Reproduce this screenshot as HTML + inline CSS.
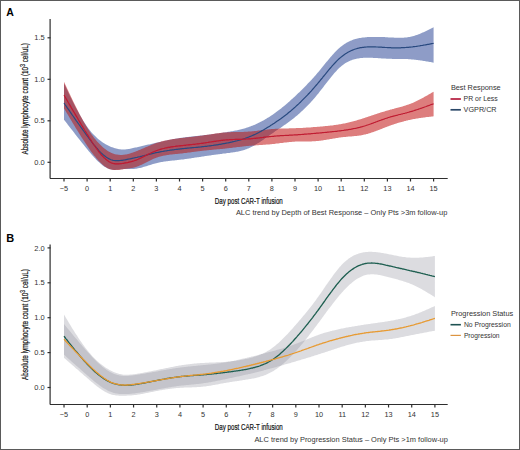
<!DOCTYPE html>
<html><head><meta charset="utf-8">
<style>
html,body{margin:0;padding:0;background:#fff;}
body{width:520px;height:450px;overflow:hidden;position:relative;font-family:"Liberation Sans",sans-serif;}
svg{position:absolute;left:0;top:0;}
</style></head>
<body>
<svg width="520" height="450" viewBox="0 0 520 450" font-family="Liberation Sans, sans-serif">
<defs><filter id="bl" x="-5%" y="-5%" width="110%" height="110%"><feGaussianBlur stdDeviation="0.6"/></filter></defs>
<rect x="0.5" y="0.5" width="519" height="449" fill="#fff" stroke="#5a5a5a" stroke-width="1"/>
<!-- Panel A -->
<text x="6.3" y="15.6" font-size="10.5" font-weight="bold" fill="#000">A</text>
<g filter="url(#bl)">
<path d="M64.0,83.5 L65.0,85.5 L66.0,87.6 L67.0,89.7 L68.0,91.8 L69.0,93.9 L70.0,95.9 L71.0,98.0 L72.0,100.0 L73.0,102.0 L74.0,104.0 L75.0,106.0 L76.0,107.9 L77.0,109.8 L78.0,111.6 L79.0,113.5 L80.0,115.3 L81.0,117.0 L82.0,118.7 L83.0,120.4 L84.0,122.0 L85.0,123.6 L86.0,125.1 L87.0,126.5 L88.0,127.9 L89.0,129.3 L90.0,130.5 L91.0,131.8 L92.0,132.9 L93.0,134.1 L94.0,135.1 L95.1,136.1 L96.1,137.1 L97.1,138.0 L98.1,138.9 L99.1,139.8 L100.1,140.6 L101.1,141.3 L102.1,142.0 L103.1,142.7 L104.1,143.3 L105.1,143.9 L106.1,144.5 L107.1,145.1 L108.1,145.6 L109.1,146.0 L110.1,146.5 L111.1,146.9 L112.1,147.3 L113.1,147.6 L114.1,148.0 L115.1,148.3 L116.1,148.5 L117.1,148.8 L118.1,149.0 L119.1,149.2 L120.1,149.3 L121.1,149.4 L122.1,149.5 L123.1,149.5 L124.1,149.5 L125.1,149.4 L126.1,149.3 L127.1,149.2 L128.1,149.1 L129.1,148.9 L130.1,148.7 L131.1,148.5 L132.1,148.3 L133.1,148.1 L134.1,147.8 L135.1,147.6 L136.1,147.4 L137.1,147.2 L138.1,146.9 L139.1,146.7 L140.1,146.5 L141.1,146.2 L142.1,146.0 L143.1,145.8 L144.1,145.5 L145.1,145.3 L146.1,145.1 L147.1,144.8 L148.1,144.6 L149.1,144.4 L150.1,144.2 L151.1,143.9 L152.1,143.7 L153.1,143.5 L154.1,143.2 L155.1,143.0 L156.1,142.8 L157.2,142.5 L158.2,142.3 L159.2,142.1 L160.2,141.9 L161.2,141.6 L162.2,141.4 L163.2,141.2 L164.2,141.0 L165.2,140.8 L166.2,140.5 L167.2,140.3 L168.2,140.1 L169.2,139.9 L170.2,139.7 L171.2,139.5 L172.2,139.3 L173.2,139.1 L174.2,139.0 L175.2,138.8 L176.2,138.6 L177.2,138.4 L178.2,138.3 L179.2,138.1 L180.2,138.0 L181.2,137.8 L182.2,137.7 L183.2,137.5 L184.2,137.4 L185.2,137.3 L186.2,137.1 L187.2,137.0 L188.2,136.9 L189.2,136.8 L190.2,136.7 L191.2,136.6 L192.2,136.4 L193.2,136.3 L194.2,136.2 L195.2,136.1 L196.2,136.0 L197.2,135.9 L198.2,135.8 L199.2,135.7 L200.2,135.6 L201.2,135.5 L202.2,135.4 L203.2,135.3 L204.2,135.1 L205.2,135.0 L206.2,134.9 L207.2,134.8 L208.2,134.7 L209.2,134.5 L210.2,134.4 L211.2,134.3 L212.2,134.2 L213.2,134.0 L214.2,133.9 L215.2,133.8 L216.2,133.6 L217.2,133.5 L218.3,133.4 L219.3,133.2 L220.3,133.1 L221.3,132.9 L222.3,132.8 L223.3,132.6 L224.3,132.5 L225.3,132.3 L226.3,132.2 L227.3,132.0 L228.3,131.8 L229.3,131.7 L230.3,131.5 L231.3,131.3 L232.3,131.2 L233.3,131.0 L234.3,130.8 L235.3,130.6 L236.3,130.4 L237.3,130.2 L238.3,130.0 L239.3,129.7 L240.3,129.5 L241.3,129.3 L242.3,129.0 L243.3,128.7 L244.3,128.4 L245.3,128.2 L246.3,127.8 L247.3,127.5 L248.3,127.2 L249.3,126.8 L250.3,126.5 L251.3,126.1 L252.3,125.7 L253.3,125.3 L254.3,124.9 L255.3,124.5 L256.3,124.0 L257.3,123.5 L258.3,123.1 L259.3,122.6 L260.3,122.1 L261.3,121.5 L262.3,121.0 L263.3,120.5 L264.3,119.9 L265.3,119.3 L266.3,118.7 L267.3,118.1 L268.3,117.5 L269.3,116.9 L270.3,116.2 L271.3,115.5 L272.3,114.9 L273.3,114.2 L274.3,113.5 L275.3,112.7 L276.3,112.0 L277.3,111.3 L278.3,110.5 L279.3,109.7 L280.4,108.9 L281.4,108.2 L282.4,107.3 L283.4,106.5 L284.4,105.7 L285.4,104.9 L286.4,104.0 L287.4,103.2 L288.4,102.3 L289.4,101.4 L290.4,100.5 L291.4,99.6 L292.4,98.7 L293.4,97.8 L294.4,96.9 L295.4,96.0 L296.4,95.0 L297.4,94.1 L298.4,93.1 L299.4,92.2 L300.4,91.2 L301.4,90.2 L302.4,89.2 L303.4,88.2 L304.4,87.2 L305.4,86.2 L306.4,85.2 L307.4,84.1 L308.4,83.1 L309.4,82.0 L310.4,81.0 L311.4,79.9 L312.4,78.8 L313.4,77.7 L314.4,76.5 L315.4,75.4 L316.4,74.2 L317.4,73.1 L318.4,71.9 L319.4,70.7 L320.4,69.5 L321.4,68.2 L322.4,67.0 L323.4,65.8 L324.4,64.6 L325.4,63.3 L326.4,62.1 L327.4,60.9 L328.4,59.7 L329.4,58.5 L330.4,57.3 L331.4,56.2 L332.4,55.0 L333.4,53.9 L334.4,52.8 L335.4,51.8 L336.4,50.8 L337.4,49.8 L338.4,48.8 L339.4,47.9 L340.4,47.1 L341.5,46.2 L342.5,45.5 L343.5,44.7 L344.5,44.0 L345.5,43.4 L346.5,42.8 L347.5,42.2 L348.5,41.7 L349.5,41.2 L350.5,40.8 L351.5,40.4 L352.5,40.0 L353.5,39.6 L354.5,39.3 L355.5,39.0 L356.5,38.8 L357.5,38.5 L358.5,38.3 L359.5,38.1 L360.5,37.9 L361.5,37.7 L362.5,37.6 L363.5,37.5 L364.5,37.4 L365.5,37.3 L366.5,37.2 L367.5,37.1 L368.5,37.0 L369.5,37.0 L370.5,36.9 L371.5,36.9 L372.5,36.9 L373.5,36.9 L374.5,36.9 L375.5,36.9 L376.5,36.9 L377.5,36.9 L378.5,36.9 L379.5,36.9 L380.5,37.0 L381.5,37.0 L382.5,37.0 L383.5,37.1 L384.5,37.1 L385.5,37.2 L386.5,37.3 L387.5,37.3 L388.5,37.4 L389.5,37.4 L390.5,37.5 L391.5,37.5 L392.5,37.6 L393.5,37.6 L394.5,37.7 L395.5,37.7 L396.5,37.8 L397.5,37.8 L398.5,37.8 L399.5,37.8 L400.5,37.8 L401.5,37.8 L402.5,37.7 L403.6,37.7 L404.6,37.6 L405.6,37.5 L406.6,37.4 L407.6,37.2 L408.6,37.1 L409.6,36.9 L410.6,36.7 L411.6,36.5 L412.6,36.2 L413.6,36.0 L414.6,35.7 L415.6,35.3 L416.6,35.0 L417.6,34.7 L418.6,34.3 L419.6,33.9 L420.6,33.5 L421.6,33.1 L422.6,32.6 L423.6,32.2 L424.6,31.7 L425.6,31.3 L426.6,30.8 L427.6,30.3 L428.6,29.8 L429.6,29.3 L430.6,28.8 L431.6,28.3 L432.6,27.8 L433.6,27.3 L433.6,62.7 L432.6,62.5 L431.6,62.3 L430.6,62.1 L429.6,62.0 L428.6,61.8 L427.6,61.6 L426.6,61.4 L425.6,61.3 L424.6,61.1 L423.6,60.9 L422.6,60.8 L421.6,60.6 L420.6,60.5 L419.6,60.3 L418.6,60.2 L417.6,60.0 L416.6,59.9 L415.6,59.8 L414.6,59.7 L413.6,59.6 L412.6,59.5 L411.6,59.4 L410.6,59.3 L409.6,59.2 L408.6,59.2 L407.6,59.1 L406.6,59.1 L405.6,59.0 L404.6,59.0 L403.6,59.0 L402.5,59.0 L401.5,58.9 L400.5,58.9 L399.5,58.9 L398.5,58.9 L397.5,58.9 L396.5,58.9 L395.5,58.9 L394.5,58.9 L393.5,58.9 L392.5,58.9 L391.5,58.8 L390.5,58.8 L389.5,58.8 L388.5,58.8 L387.5,58.7 L386.5,58.7 L385.5,58.6 L384.5,58.6 L383.5,58.5 L382.5,58.4 L381.5,58.4 L380.5,58.3 L379.5,58.3 L378.5,58.2 L377.5,58.1 L376.5,58.1 L375.5,58.0 L374.5,57.9 L373.5,57.9 L372.5,57.8 L371.5,57.8 L370.5,57.8 L369.5,57.7 L368.5,57.7 L367.5,57.7 L366.5,57.7 L365.5,57.8 L364.5,57.8 L363.5,57.8 L362.5,57.9 L361.5,58.0 L360.5,58.1 L359.5,58.2 L358.5,58.4 L357.5,58.5 L356.5,58.7 L355.5,59.0 L354.5,59.2 L353.5,59.5 L352.5,59.8 L351.5,60.2 L350.5,60.6 L349.5,61.0 L348.5,61.5 L347.5,62.0 L346.5,62.5 L345.5,63.1 L344.5,63.8 L343.5,64.5 L342.5,65.3 L341.5,66.1 L340.4,66.9 L339.4,67.8 L338.4,68.8 L337.4,69.8 L336.4,70.9 L335.4,72.0 L334.4,73.1 L333.4,74.2 L332.4,75.4 L331.4,76.7 L330.4,77.9 L329.4,79.2 L328.4,80.4 L327.4,81.7 L326.4,83.0 L325.4,84.3 L324.4,85.6 L323.4,86.9 L322.4,88.2 L321.4,89.5 L320.4,90.8 L319.4,92.1 L318.4,93.4 L317.4,94.6 L316.4,95.8 L315.4,97.0 L314.4,98.2 L313.4,99.3 L312.4,100.4 L311.4,101.6 L310.4,102.7 L309.4,103.7 L308.4,104.8 L307.4,105.8 L306.4,106.8 L305.4,107.8 L304.4,108.8 L303.4,109.8 L302.4,110.7 L301.4,111.6 L300.4,112.5 L299.4,113.4 L298.4,114.3 L297.4,115.2 L296.4,116.0 L295.4,116.8 L294.4,117.7 L293.4,118.5 L292.4,119.2 L291.4,120.0 L290.4,120.8 L289.4,121.5 L288.4,122.2 L287.4,123.0 L286.4,123.7 L285.4,124.4 L284.4,125.1 L283.4,125.8 L282.4,126.5 L281.4,127.2 L280.4,127.9 L279.3,128.6 L278.3,129.2 L277.3,129.9 L276.3,130.6 L275.3,131.3 L274.3,132.0 L273.3,132.7 L272.3,133.4 L271.3,134.1 L270.3,134.8 L269.3,135.5 L268.3,136.2 L267.3,136.9 L266.3,137.6 L265.3,138.3 L264.3,139.0 L263.3,139.7 L262.3,140.4 L261.3,141.0 L260.3,141.7 L259.3,142.4 L258.3,143.0 L257.3,143.6 L256.3,144.2 L255.3,144.8 L254.3,145.4 L253.3,146.0 L252.3,146.5 L251.3,147.0 L250.3,147.5 L249.3,148.0 L248.3,148.4 L247.3,148.8 L246.3,149.2 L245.3,149.5 L244.3,149.9 L243.3,150.2 L242.3,150.5 L241.3,150.7 L240.3,151.0 L239.3,151.2 L238.3,151.5 L237.3,151.7 L236.3,151.8 L235.3,152.0 L234.3,152.2 L233.3,152.3 L232.3,152.5 L231.3,152.6 L230.3,152.8 L229.3,152.9 L228.3,153.0 L227.3,153.1 L226.3,153.3 L225.3,153.4 L224.3,153.5 L223.3,153.6 L222.3,153.8 L221.3,153.9 L220.3,154.0 L219.3,154.2 L218.3,154.3 L217.2,154.4 L216.2,154.6 L215.2,154.7 L214.2,154.8 L213.2,155.0 L212.2,155.1 L211.2,155.2 L210.2,155.4 L209.2,155.5 L208.2,155.7 L207.2,155.8 L206.2,156.0 L205.2,156.1 L204.2,156.2 L203.2,156.4 L202.2,156.5 L201.2,156.7 L200.2,156.9 L199.2,157.0 L198.2,157.2 L197.2,157.3 L196.2,157.5 L195.2,157.6 L194.2,157.8 L193.2,157.9 L192.2,158.1 L191.2,158.2 L190.2,158.4 L189.2,158.5 L188.2,158.7 L187.2,158.8 L186.2,159.0 L185.2,159.1 L184.2,159.2 L183.2,159.4 L182.2,159.5 L181.2,159.6 L180.2,159.7 L179.2,159.8 L178.2,160.0 L177.2,160.1 L176.2,160.2 L175.2,160.3 L174.2,160.4 L173.2,160.5 L172.2,160.6 L171.2,160.7 L170.2,160.8 L169.2,160.9 L168.2,161.0 L167.2,161.2 L166.2,161.3 L165.2,161.4 L164.2,161.6 L163.2,161.7 L162.2,161.9 L161.2,162.1 L160.2,162.3 L159.2,162.5 L158.2,162.7 L157.2,162.9 L156.1,163.2 L155.1,163.5 L154.1,163.7 L153.1,164.0 L152.1,164.3 L151.1,164.7 L150.1,165.0 L149.1,165.3 L148.1,165.6 L147.1,165.9 L146.1,166.2 L145.1,166.5 L144.1,166.8 L143.1,167.1 L142.1,167.4 L141.1,167.7 L140.1,167.9 L139.1,168.1 L138.1,168.3 L137.1,168.5 L136.1,168.7 L135.1,168.8 L134.1,168.9 L133.1,168.9 L132.1,169.0 L131.1,169.0 L130.1,169.0 L129.1,168.9 L128.1,168.9 L127.1,168.9 L126.1,168.9 L125.1,168.9 L124.1,169.0 L123.1,169.1 L122.1,169.2 L121.1,169.3 L120.1,169.4 L119.1,169.6 L118.1,169.7 L117.1,169.8 L116.1,169.8 L115.1,169.9 L114.1,169.9 L113.1,169.8 L112.1,169.7 L111.1,169.6 L110.1,169.3 L109.1,169.0 L108.1,168.6 L107.1,168.2 L106.1,167.6 L105.1,167.0 L104.1,166.4 L103.1,165.7 L102.1,164.9 L101.1,164.1 L100.1,163.2 L99.1,162.3 L98.1,161.4 L97.1,160.4 L96.1,159.4 L95.1,158.3 L94.0,157.2 L93.0,156.1 L92.0,154.9 L91.0,153.8 L90.0,152.6 L89.0,151.4 L88.0,150.2 L87.0,148.9 L86.0,147.7 L85.0,146.5 L84.0,145.2 L83.0,144.0 L82.0,142.8 L81.0,141.5 L80.0,140.2 L79.0,139.0 L78.0,137.7 L77.0,136.4 L76.0,135.2 L75.0,133.9 L74.0,132.6 L73.0,131.3 L72.0,130.0 L71.0,128.8 L70.0,127.5 L69.0,126.2 L68.0,124.9 L67.0,123.6 L66.0,122.3 L65.0,121.0 L64.0,119.7 Z" fill="#284696" fill-opacity="0.53" stroke="none"/>
<path d="M64.0,81.7 L65.0,83.9 L66.0,86.0 L67.0,88.2 L68.0,90.3 L69.0,92.5 L70.0,94.6 L71.0,96.7 L72.0,98.8 L73.0,100.9 L74.0,103.0 L75.0,105.0 L76.0,107.0 L77.0,109.0 L78.0,111.0 L79.0,113.0 L80.0,114.9 L81.0,116.8 L82.0,118.6 L83.0,120.5 L84.0,122.2 L85.0,124.0 L86.0,125.7 L87.0,127.3 L88.0,129.0 L89.0,130.5 L90.0,132.0 L91.0,133.5 L92.0,134.9 L93.0,136.3 L94.0,137.7 L95.1,138.9 L96.1,140.2 L97.1,141.4 L98.1,142.5 L99.1,143.6 L100.1,144.6 L101.1,145.6 L102.1,146.6 L103.1,147.5 L104.1,148.3 L105.1,149.1 L106.1,149.8 L107.1,150.5 L108.1,151.2 L109.1,151.7 L110.1,152.3 L111.1,152.8 L112.1,153.2 L113.1,153.6 L114.1,153.9 L115.1,154.2 L116.1,154.4 L117.1,154.6 L118.1,154.7 L119.1,154.8 L120.1,154.9 L121.1,154.9 L122.1,154.9 L123.1,154.8 L124.1,154.7 L125.1,154.6 L126.1,154.4 L127.1,154.2 L128.1,153.9 L129.1,153.7 L130.1,153.4 L131.1,153.1 L132.1,152.8 L133.1,152.4 L134.1,152.0 L135.1,151.7 L136.1,151.3 L137.1,150.9 L138.1,150.5 L139.1,150.1 L140.1,149.7 L141.1,149.2 L142.1,148.8 L143.1,148.4 L144.1,147.9 L145.1,147.5 L146.1,147.1 L147.1,146.7 L148.1,146.2 L149.1,145.8 L150.1,145.4 L151.1,145.0 L152.1,144.6 L153.1,144.2 L154.1,143.8 L155.1,143.5 L156.1,143.1 L157.2,142.8 L158.2,142.5 L159.2,142.2 L160.2,141.9 L161.2,141.6 L162.2,141.3 L163.2,141.1 L164.2,140.8 L165.2,140.6 L166.2,140.4 L167.2,140.2 L168.2,140.0 L169.2,139.8 L170.2,139.6 L171.2,139.4 L172.2,139.3 L173.2,139.1 L174.2,139.0 L175.2,138.8 L176.2,138.7 L177.2,138.5 L178.2,138.4 L179.2,138.3 L180.2,138.1 L181.2,138.0 L182.2,137.9 L183.2,137.8 L184.2,137.7 L185.2,137.6 L186.2,137.4 L187.2,137.3 L188.2,137.2 L189.2,137.1 L190.2,137.0 L191.2,136.9 L192.2,136.8 L193.2,136.7 L194.2,136.5 L195.2,136.4 L196.2,136.3 L197.2,136.2 L198.2,136.1 L199.2,135.9 L200.2,135.8 L201.2,135.7 L202.2,135.5 L203.2,135.4 L204.2,135.3 L205.2,135.1 L206.2,135.0 L207.2,134.8 L208.2,134.7 L209.2,134.5 L210.2,134.4 L211.2,134.2 L212.2,134.1 L213.2,133.9 L214.2,133.8 L215.2,133.6 L216.2,133.5 L217.2,133.3 L218.3,133.2 L219.3,133.1 L220.3,133.0 L221.3,132.8 L222.3,132.7 L223.3,132.6 L224.3,132.5 L225.3,132.5 L226.3,132.4 L227.3,132.3 L228.3,132.3 L229.3,132.2 L230.3,132.2 L231.3,132.1 L232.3,132.1 L233.3,132.1 L234.3,132.0 L235.3,132.0 L236.3,132.0 L237.3,132.0 L238.3,132.0 L239.3,131.9 L240.3,131.9 L241.3,131.9 L242.3,131.9 L243.3,131.9 L244.3,131.8 L245.3,131.8 L246.3,131.7 L247.3,131.7 L248.3,131.6 L249.3,131.6 L250.3,131.5 L251.3,131.4 L252.3,131.3 L253.3,131.2 L254.3,131.1 L255.3,131.0 L256.3,130.9 L257.3,130.8 L258.3,130.6 L259.3,130.5 L260.3,130.4 L261.3,130.3 L262.3,130.2 L263.3,130.0 L264.3,129.9 L265.3,129.8 L266.3,129.7 L267.3,129.6 L268.3,129.4 L269.3,129.3 L270.3,129.2 L271.3,129.1 L272.3,129.1 L273.3,129.0 L274.3,128.9 L275.3,128.8 L276.3,128.8 L277.3,128.7 L278.3,128.7 L279.3,128.6 L280.4,128.6 L281.4,128.6 L282.4,128.5 L283.4,128.5 L284.4,128.5 L285.4,128.4 L286.4,128.4 L287.4,128.4 L288.4,128.4 L289.4,128.3 L290.4,128.3 L291.4,128.3 L292.4,128.3 L293.4,128.2 L294.4,128.2 L295.4,128.2 L296.4,128.1 L297.4,128.1 L298.4,128.1 L299.4,128.0 L300.4,128.0 L301.4,127.9 L302.4,127.9 L303.4,127.8 L304.4,127.7 L305.4,127.7 L306.4,127.6 L307.4,127.6 L308.4,127.5 L309.4,127.4 L310.4,127.4 L311.4,127.3 L312.4,127.2 L313.4,127.1 L314.4,127.1 L315.4,127.0 L316.4,126.9 L317.4,126.8 L318.4,126.8 L319.4,126.7 L320.4,126.6 L321.4,126.5 L322.4,126.4 L323.4,126.3 L324.4,126.2 L325.4,126.1 L326.4,126.0 L327.4,125.9 L328.4,125.8 L329.4,125.7 L330.4,125.6 L331.4,125.5 L332.4,125.4 L333.4,125.3 L334.4,125.1 L335.4,125.0 L336.4,124.8 L337.4,124.7 L338.4,124.5 L339.4,124.3 L340.4,124.2 L341.5,124.0 L342.5,123.8 L343.5,123.6 L344.5,123.4 L345.5,123.2 L346.5,123.0 L347.5,122.7 L348.5,122.5 L349.5,122.2 L350.5,122.0 L351.5,121.7 L352.5,121.5 L353.5,121.2 L354.5,120.9 L355.5,120.7 L356.5,120.4 L357.5,120.1 L358.5,119.8 L359.5,119.5 L360.5,119.2 L361.5,118.9 L362.5,118.6 L363.5,118.2 L364.5,117.9 L365.5,117.6 L366.5,117.3 L367.5,116.9 L368.5,116.6 L369.5,116.3 L370.5,115.9 L371.5,115.6 L372.5,115.3 L373.5,114.9 L374.5,114.6 L375.5,114.2 L376.5,113.9 L377.5,113.6 L378.5,113.3 L379.5,112.9 L380.5,112.6 L381.5,112.3 L382.5,112.0 L383.5,111.7 L384.5,111.4 L385.5,111.1 L386.5,110.8 L387.5,110.5 L388.5,110.2 L389.5,109.9 L390.5,109.6 L391.5,109.4 L392.5,109.1 L393.5,108.9 L394.5,108.6 L395.5,108.3 L396.5,108.1 L397.5,107.8 L398.5,107.5 L399.5,107.3 L400.5,107.0 L401.5,106.7 L402.5,106.4 L403.6,106.1 L404.6,105.8 L405.6,105.5 L406.6,105.1 L407.6,104.8 L408.6,104.4 L409.6,104.1 L410.6,103.7 L411.6,103.3 L412.6,102.9 L413.6,102.4 L414.6,102.0 L415.6,101.5 L416.6,101.0 L417.6,100.5 L418.6,100.0 L419.6,99.5 L420.6,99.0 L421.6,98.5 L422.6,97.9 L423.6,97.4 L424.6,96.8 L425.6,96.3 L426.6,95.7 L427.6,95.2 L428.6,94.6 L429.6,94.0 L430.6,93.4 L431.6,92.8 L432.6,92.3 L433.6,91.7 L433.6,116.3 L432.6,116.4 L431.6,116.5 L430.6,116.7 L429.6,116.8 L428.6,116.9 L427.6,117.0 L426.6,117.1 L425.6,117.3 L424.6,117.4 L423.6,117.5 L422.6,117.7 L421.6,117.8 L420.6,118.0 L419.6,118.1 L418.6,118.3 L417.6,118.4 L416.6,118.6 L415.6,118.7 L414.6,118.9 L413.6,119.1 L412.6,119.3 L411.6,119.5 L410.6,119.7 L409.6,119.9 L408.6,120.1 L407.6,120.4 L406.6,120.6 L405.6,120.9 L404.6,121.1 L403.6,121.4 L402.5,121.7 L401.5,121.9 L400.5,122.2 L399.5,122.5 L398.5,122.8 L397.5,123.1 L396.5,123.4 L395.5,123.8 L394.5,124.1 L393.5,124.4 L392.5,124.8 L391.5,125.1 L390.5,125.5 L389.5,125.8 L388.5,126.2 L387.5,126.6 L386.5,126.9 L385.5,127.3 L384.5,127.7 L383.5,128.1 L382.5,128.5 L381.5,128.9 L380.5,129.3 L379.5,129.7 L378.5,130.1 L377.5,130.5 L376.5,130.8 L375.5,131.2 L374.5,131.6 L373.5,131.9 L372.5,132.3 L371.5,132.6 L370.5,133.0 L369.5,133.3 L368.5,133.6 L367.5,133.9 L366.5,134.1 L365.5,134.4 L364.5,134.6 L363.5,134.8 L362.5,135.0 L361.5,135.2 L360.5,135.4 L359.5,135.5 L358.5,135.7 L357.5,135.8 L356.5,135.9 L355.5,136.0 L354.5,136.1 L353.5,136.2 L352.5,136.3 L351.5,136.4 L350.5,136.5 L349.5,136.5 L348.5,136.6 L347.5,136.7 L346.5,136.8 L345.5,136.9 L344.5,137.0 L343.5,137.1 L342.5,137.2 L341.5,137.3 L340.4,137.4 L339.4,137.6 L338.4,137.7 L337.4,137.9 L336.4,138.0 L335.4,138.2 L334.4,138.4 L333.4,138.5 L332.4,138.7 L331.4,138.9 L330.4,139.1 L329.4,139.3 L328.4,139.5 L327.4,139.6 L326.4,139.8 L325.4,140.0 L324.4,140.1 L323.4,140.3 L322.4,140.4 L321.4,140.6 L320.4,140.7 L319.4,140.8 L318.4,140.9 L317.4,141.0 L316.4,141.1 L315.4,141.2 L314.4,141.2 L313.4,141.3 L312.4,141.3 L311.4,141.4 L310.4,141.4 L309.4,141.4 L308.4,141.4 L307.4,141.4 L306.4,141.4 L305.4,141.4 L304.4,141.4 L303.4,141.4 L302.4,141.4 L301.4,141.5 L300.4,141.5 L299.4,141.5 L298.4,141.5 L297.4,141.5 L296.4,141.6 L295.4,141.6 L294.4,141.7 L293.4,141.7 L292.4,141.8 L291.4,141.9 L290.4,142.0 L289.4,142.1 L288.4,142.2 L287.4,142.3 L286.4,142.4 L285.4,142.5 L284.4,142.6 L283.4,142.7 L282.4,142.9 L281.4,143.0 L280.4,143.1 L279.3,143.3 L278.3,143.4 L277.3,143.5 L276.3,143.6 L275.3,143.7 L274.3,143.9 L273.3,144.0 L272.3,144.1 L271.3,144.2 L270.3,144.3 L269.3,144.4 L268.3,144.5 L267.3,144.5 L266.3,144.6 L265.3,144.7 L264.3,144.8 L263.3,144.8 L262.3,144.9 L261.3,145.0 L260.3,145.0 L259.3,145.1 L258.3,145.2 L257.3,145.2 L256.3,145.3 L255.3,145.4 L254.3,145.4 L253.3,145.5 L252.3,145.6 L251.3,145.7 L250.3,145.7 L249.3,145.8 L248.3,145.9 L247.3,146.0 L246.3,146.1 L245.3,146.2 L244.3,146.3 L243.3,146.4 L242.3,146.5 L241.3,146.7 L240.3,146.8 L239.3,146.9 L238.3,147.0 L237.3,147.1 L236.3,147.3 L235.3,147.4 L234.3,147.5 L233.3,147.6 L232.3,147.8 L231.3,147.9 L230.3,148.0 L229.3,148.1 L228.3,148.2 L227.3,148.3 L226.3,148.5 L225.3,148.6 L224.3,148.7 L223.3,148.8 L222.3,148.9 L221.3,149.0 L220.3,149.1 L219.3,149.2 L218.3,149.3 L217.2,149.3 L216.2,149.4 L215.2,149.5 L214.2,149.6 L213.2,149.7 L212.2,149.8 L211.2,149.9 L210.2,150.0 L209.2,150.1 L208.2,150.2 L207.2,150.3 L206.2,150.4 L205.2,150.5 L204.2,150.6 L203.2,150.7 L202.2,150.8 L201.2,150.9 L200.2,151.0 L199.2,151.2 L198.2,151.3 L197.2,151.4 L196.2,151.6 L195.2,151.7 L194.2,151.8 L193.2,152.0 L192.2,152.1 L191.2,152.2 L190.2,152.4 L189.2,152.5 L188.2,152.6 L187.2,152.7 L186.2,152.9 L185.2,153.0 L184.2,153.1 L183.2,153.3 L182.2,153.4 L181.2,153.5 L180.2,153.6 L179.2,153.7 L178.2,153.8 L177.2,153.9 L176.2,154.0 L175.2,154.1 L174.2,154.2 L173.2,154.3 L172.2,154.4 L171.2,154.5 L170.2,154.6 L169.2,154.8 L168.2,154.9 L167.2,155.1 L166.2,155.2 L165.2,155.4 L164.2,155.6 L163.2,155.8 L162.2,156.0 L161.2,156.3 L160.2,156.5 L159.2,156.8 L158.2,157.1 L157.2,157.5 L156.1,157.8 L155.1,158.2 L154.1,158.6 L153.1,159.1 L152.1,159.5 L151.1,160.0 L150.1,160.5 L149.1,161.0 L148.1,161.5 L147.1,162.0 L146.1,162.5 L145.1,163.0 L144.1,163.5 L143.1,163.9 L142.1,164.4 L141.1,164.9 L140.1,165.3 L139.1,165.8 L138.1,166.2 L137.1,166.5 L136.1,166.9 L135.1,167.2 L134.1,167.5 L133.1,167.7 L132.1,167.9 L131.1,168.1 L130.1,168.3 L129.1,168.4 L128.1,168.5 L127.1,168.7 L126.1,168.8 L125.1,168.9 L124.1,169.1 L123.1,169.2 L122.1,169.4 L121.1,169.6 L120.1,169.7 L119.1,169.9 L118.1,170.0 L117.1,170.1 L116.1,170.1 L115.1,170.1 L114.1,170.1 L113.1,170.0 L112.1,169.8 L111.1,169.6 L110.1,169.3 L109.1,168.9 L108.1,168.5 L107.1,167.9 L106.1,167.3 L105.1,166.7 L104.1,165.9 L103.1,165.1 L102.1,164.2 L101.1,163.3 L100.1,162.3 L99.1,161.3 L98.1,160.2 L97.1,159.0 L96.1,157.9 L95.1,156.6 L94.0,155.4 L93.0,154.1 L92.0,152.7 L91.0,151.4 L90.0,150.0 L89.0,148.5 L88.0,147.1 L87.0,145.6 L86.0,144.1 L85.0,142.6 L84.0,141.1 L83.0,139.5 L82.0,138.0 L81.0,136.4 L80.0,134.8 L79.0,133.3 L78.0,131.6 L77.0,130.0 L76.0,128.4 L75.0,126.8 L74.0,125.1 L73.0,123.5 L72.0,121.8 L71.0,120.1 L70.0,118.5 L69.0,116.8 L68.0,115.1 L67.0,113.4 L66.0,111.7 L65.0,110.0 L64.0,108.4 Z" fill="#bc0a08" fill-opacity="0.51" stroke="none"/>
<path d="M64.0,103.0 L65.0,104.5 L66.0,105.9 L67.0,107.4 L68.0,108.8 L69.0,110.2 L70.0,111.7 L71.0,113.1 L72.0,114.6 L73.0,116.0 L74.0,117.4 L75.0,118.8 L76.0,120.3 L77.0,121.7 L78.0,123.1 L79.0,124.5 L80.0,125.9 L81.0,127.3 L82.0,128.7 L83.0,130.1 L84.0,131.5 L85.0,132.9 L86.0,134.3 L87.0,135.7 L88.0,137.0 L89.0,138.4 L90.0,139.7 L91.0,141.0 L92.0,142.4 L93.0,143.6 L94.0,144.9 L95.1,146.1 L96.1,147.4 L97.1,148.5 L98.1,149.7 L99.1,150.8 L100.1,151.8 L101.1,152.8 L102.1,153.8 L103.1,154.7 L104.1,155.5 L105.1,156.3 L106.1,157.1 L107.1,157.7 L108.1,158.3 L109.1,158.9 L110.1,159.3 L111.1,159.7 L112.1,160.0 L113.1,160.3 L114.1,160.5 L115.1,160.6 L116.1,160.7 L117.1,160.7 L118.1,160.7 L119.1,160.6 L120.1,160.5 L121.1,160.4 L122.1,160.3 L123.1,160.1 L124.1,160.0 L125.1,159.8 L126.1,159.6 L127.1,159.4 L128.1,159.2 L129.1,159.0 L130.1,158.8 L131.1,158.6 L132.1,158.4 L133.1,158.2 L134.1,158.0 L135.1,157.7 L136.1,157.5 L137.1,157.3 L138.1,157.0 L139.1,156.8 L140.1,156.6 L141.1,156.3 L142.1,156.1 L143.1,155.8 L144.1,155.6 L145.1,155.3 L146.1,155.1 L147.1,154.8 L148.1,154.6 L149.1,154.3 L150.1,154.1 L151.1,153.9 L152.1,153.6 L153.1,153.4 L154.1,153.2 L155.1,152.9 L156.1,152.7 L157.2,152.5 L158.2,152.3 L159.2,152.1 L160.2,151.9 L161.2,151.7 L162.2,151.5 L163.2,151.4 L164.2,151.2 L165.2,151.0 L166.2,150.8 L167.2,150.7 L168.2,150.5 L169.2,150.4 L170.2,150.2 L171.2,150.1 L172.2,149.9 L173.2,149.8 L174.2,149.7 L175.2,149.5 L176.2,149.4 L177.2,149.3 L178.2,149.2 L179.2,149.1 L180.2,148.9 L181.2,148.8 L182.2,148.7 L183.2,148.6 L184.2,148.5 L185.2,148.4 L186.2,148.3 L187.2,148.2 L188.2,148.1 L189.2,148.0 L190.2,147.9 L191.2,147.8 L192.2,147.7 L193.2,147.6 L194.2,147.5 L195.2,147.5 L196.2,147.4 L197.2,147.3 L198.2,147.2 L199.2,147.1 L200.2,147.0 L201.2,146.8 L202.2,146.7 L203.2,146.6 L204.2,146.5 L205.2,146.4 L206.2,146.3 L207.2,146.2 L208.2,146.0 L209.2,145.9 L210.2,145.8 L211.2,145.6 L212.2,145.5 L213.2,145.4 L214.2,145.2 L215.2,145.1 L216.2,144.9 L217.2,144.8 L218.3,144.6 L219.3,144.4 L220.3,144.3 L221.3,144.1 L222.3,143.9 L223.3,143.7 L224.3,143.6 L225.3,143.4 L226.3,143.2 L227.3,143.0 L228.3,142.8 L229.3,142.6 L230.3,142.4 L231.3,142.2 L232.3,141.9 L233.3,141.7 L234.3,141.5 L235.3,141.2 L236.3,141.0 L237.3,140.7 L238.3,140.4 L239.3,140.2 L240.3,139.9 L241.3,139.6 L242.3,139.3 L243.3,139.0 L244.3,138.6 L245.3,138.3 L246.3,137.9 L247.3,137.6 L248.3,137.2 L249.3,136.8 L250.3,136.4 L251.3,136.0 L252.3,135.5 L253.3,135.1 L254.3,134.6 L255.3,134.2 L256.3,133.7 L257.3,133.2 L258.3,132.7 L259.3,132.2 L260.3,131.6 L261.3,131.1 L262.3,130.5 L263.3,130.0 L264.3,129.4 L265.3,128.8 L266.3,128.2 L267.3,127.6 L268.3,127.0 L269.3,126.4 L270.3,125.8 L271.3,125.1 L272.3,124.5 L273.3,123.8 L274.3,123.2 L275.3,122.5 L276.3,121.8 L277.3,121.1 L278.3,120.4 L279.3,119.7 L280.4,119.0 L281.4,118.3 L282.4,117.5 L283.4,116.8 L284.4,116.0 L285.4,115.2 L286.4,114.5 L287.4,113.7 L288.4,112.8 L289.4,112.0 L290.4,111.2 L291.4,110.4 L292.4,109.5 L293.4,108.6 L294.4,107.7 L295.4,106.9 L296.4,105.9 L297.4,105.0 L298.4,104.1 L299.4,103.1 L300.4,102.2 L301.4,101.2 L302.4,100.2 L303.4,99.2 L304.4,98.2 L305.4,97.2 L306.4,96.1 L307.4,95.1 L308.4,94.0 L309.4,93.0 L310.4,91.9 L311.4,90.8 L312.4,89.6 L313.4,88.5 L314.4,87.4 L315.4,86.2 L316.4,85.0 L317.4,83.9 L318.4,82.7 L319.4,81.5 L320.4,80.2 L321.4,79.0 L322.4,77.8 L323.4,76.5 L324.4,75.3 L325.4,74.1 L326.4,72.8 L327.4,71.6 L328.4,70.4 L329.4,69.2 L330.4,68.0 L331.4,66.9 L332.4,65.7 L333.4,64.6 L334.4,63.5 L335.4,62.5 L336.4,61.4 L337.4,60.4 L338.4,59.4 L339.4,58.5 L340.4,57.6 L341.5,56.8 L342.5,56.0 L343.5,55.2 L344.5,54.5 L345.5,53.8 L346.5,53.2 L347.5,52.6 L348.5,52.0 L349.5,51.5 L350.5,51.0 L351.5,50.5 L352.5,50.1 L353.5,49.7 L354.5,49.3 L355.5,49.0 L356.5,48.7 L357.5,48.4 L358.5,48.2 L359.5,47.9 L360.5,47.7 L361.5,47.6 L362.5,47.4 L363.5,47.3 L364.5,47.2 L365.5,47.1 L366.5,47.0 L367.5,46.9 L368.5,46.9 L369.5,46.9 L370.5,46.8 L371.5,46.8 L372.5,46.8 L373.5,46.9 L374.5,46.9 L375.5,46.9 L376.5,47.0 L377.5,47.0 L378.5,47.1 L379.5,47.1 L380.5,47.2 L381.5,47.2 L382.5,47.3 L383.5,47.4 L384.5,47.4 L385.5,47.5 L386.5,47.5 L387.5,47.6 L388.5,47.6 L389.5,47.7 L390.5,47.7 L391.5,47.8 L392.5,47.8 L393.5,47.8 L394.5,47.8 L395.5,47.8 L396.5,47.8 L397.5,47.8 L398.5,47.8 L399.5,47.8 L400.5,47.8 L401.5,47.7 L402.5,47.7 L403.6,47.6 L404.6,47.6 L405.6,47.5 L406.6,47.4 L407.6,47.4 L408.6,47.3 L409.6,47.2 L410.6,47.1 L411.6,47.0 L412.6,46.9 L413.6,46.7 L414.6,46.6 L415.6,46.5 L416.6,46.3 L417.6,46.2 L418.6,46.0 L419.6,45.9 L420.6,45.7 L421.6,45.5 L422.6,45.4 L423.6,45.2 L424.6,45.0 L425.6,44.8 L426.6,44.6 L427.6,44.4 L428.6,44.3 L429.6,44.1 L430.6,43.9 L431.6,43.7 L432.6,43.5 L433.6,43.3" fill="none" stroke="#2a4a80" stroke-width="1.2"/>
<path d="M64.0,95.1 L65.0,96.8 L66.0,98.5 L67.0,100.2 L68.0,102.0 L69.0,103.7 L70.0,105.4 L71.0,107.1 L72.0,108.8 L73.0,110.5 L74.0,112.2 L75.0,113.9 L76.0,115.6 L77.0,117.3 L78.0,119.0 L79.0,120.7 L80.0,122.4 L81.0,124.1 L82.0,125.7 L83.0,127.4 L84.0,129.0 L85.0,130.7 L86.0,132.3 L87.0,134.0 L88.0,135.6 L89.0,137.2 L90.0,138.8 L91.0,140.4 L92.0,142.0 L93.0,143.5 L94.0,145.0 L95.1,146.5 L96.1,147.9 L97.1,149.3 L98.1,150.7 L99.1,152.0 L100.1,153.2 L101.1,154.5 L102.1,155.6 L103.1,156.7 L104.1,157.7 L105.1,158.6 L106.1,159.5 L107.1,160.3 L108.1,161.0 L109.1,161.7 L110.1,162.2 L111.1,162.7 L112.1,163.1 L113.1,163.4 L114.1,163.6 L115.1,163.8 L116.1,163.8 L117.1,163.9 L118.1,163.9 L119.1,163.8 L120.1,163.7 L121.1,163.6 L122.1,163.5 L123.1,163.3 L124.1,163.1 L125.1,162.9 L126.1,162.8 L127.1,162.6 L128.1,162.4 L129.1,162.1 L130.1,161.9 L131.1,161.7 L132.1,161.4 L133.1,161.1 L134.1,160.8 L135.1,160.4 L136.1,160.1 L137.1,159.7 L138.1,159.3 L139.1,158.8 L140.1,158.4 L141.1,157.9 L142.1,157.4 L143.1,156.9 L144.1,156.4 L145.1,155.9 L146.1,155.4 L147.1,154.9 L148.1,154.4 L149.1,153.9 L150.1,153.5 L151.1,153.0 L152.1,152.5 L153.1,152.0 L154.1,151.6 L155.1,151.2 L156.1,150.8 L157.2,150.4 L158.2,150.0 L159.2,149.7 L160.2,149.4 L161.2,149.1 L162.2,148.8 L163.2,148.5 L164.2,148.3 L165.2,148.0 L166.2,147.8 L167.2,147.6 L168.2,147.4 L169.2,147.3 L170.2,147.1 L171.2,146.9 L172.2,146.8 L173.2,146.6 L174.2,146.5 L175.2,146.4 L176.2,146.2 L177.2,146.1 L178.2,146.0 L179.2,145.9 L180.2,145.8 L181.2,145.7 L182.2,145.6 L183.2,145.5 L184.2,145.4 L185.2,145.3 L186.2,145.1 L187.2,145.0 L188.2,144.9 L189.2,144.8 L190.2,144.7 L191.2,144.6 L192.2,144.5 L193.2,144.4 L194.2,144.3 L195.2,144.2 L196.2,144.0 L197.2,143.9 L198.2,143.8 L199.2,143.7 L200.2,143.5 L201.2,143.4 L202.2,143.3 L203.2,143.1 L204.2,143.0 L205.2,142.8 L206.2,142.7 L207.2,142.5 L208.2,142.4 L209.2,142.2 L210.2,142.0 L211.2,141.9 L212.2,141.7 L213.2,141.6 L214.2,141.4 L215.2,141.3 L216.2,141.1 L217.2,141.0 L218.3,140.8 L219.3,140.7 L220.3,140.6 L221.3,140.4 L222.3,140.3 L223.3,140.2 L224.3,140.1 L225.3,140.0 L226.3,139.9 L227.3,139.8 L228.3,139.8 L229.3,139.7 L230.3,139.7 L231.3,139.6 L232.3,139.6 L233.3,139.5 L234.3,139.5 L235.3,139.4 L236.3,139.4 L237.3,139.4 L238.3,139.4 L239.3,139.3 L240.3,139.3 L241.3,139.3 L242.3,139.2 L243.3,139.2 L244.3,139.1 L245.3,139.1 L246.3,139.0 L247.3,139.0 L248.3,138.9 L249.3,138.9 L250.3,138.8 L251.3,138.7 L252.3,138.6 L253.3,138.5 L254.3,138.4 L255.3,138.3 L256.3,138.2 L257.3,138.1 L258.3,138.0 L259.3,137.8 L260.3,137.7 L261.3,137.6 L262.3,137.5 L263.3,137.4 L264.3,137.2 L265.3,137.1 L266.3,137.0 L267.3,136.9 L268.3,136.8 L269.3,136.7 L270.3,136.6 L271.3,136.5 L272.3,136.4 L273.3,136.3 L274.3,136.2 L275.3,136.1 L276.3,136.0 L277.3,135.9 L278.3,135.9 L279.3,135.8 L280.4,135.7 L281.4,135.7 L282.4,135.6 L283.4,135.6 L284.4,135.5 L285.4,135.4 L286.4,135.4 L287.4,135.3 L288.4,135.3 L289.4,135.2 L290.4,135.2 L291.4,135.1 L292.4,135.1 L293.4,135.0 L294.4,134.9 L295.4,134.9 L296.4,134.8 L297.4,134.8 L298.4,134.7 L299.4,134.6 L300.4,134.6 L301.4,134.5 L302.4,134.4 L303.4,134.3 L304.4,134.2 L305.4,134.2 L306.4,134.1 L307.4,134.0 L308.4,133.9 L309.4,133.8 L310.4,133.8 L311.4,133.7 L312.4,133.6 L313.4,133.5 L314.4,133.4 L315.4,133.3 L316.4,133.2 L317.4,133.1 L318.4,133.1 L319.4,133.0 L320.4,132.9 L321.4,132.8 L322.4,132.7 L323.4,132.6 L324.4,132.5 L325.4,132.4 L326.4,132.3 L327.4,132.2 L328.4,132.1 L329.4,132.0 L330.4,131.9 L331.4,131.8 L332.4,131.7 L333.4,131.6 L334.4,131.5 L335.4,131.4 L336.4,131.3 L337.4,131.1 L338.4,131.0 L339.4,130.9 L340.4,130.8 L341.5,130.6 L342.5,130.5 L343.5,130.4 L344.5,130.2 L345.5,130.1 L346.5,129.9 L347.5,129.8 L348.5,129.6 L349.5,129.4 L350.5,129.3 L351.5,129.1 L352.5,128.9 L353.5,128.7 L354.5,128.5 L355.5,128.3 L356.5,128.1 L357.5,127.8 L358.5,127.6 L359.5,127.4 L360.5,127.1 L361.5,126.8 L362.5,126.6 L363.5,126.3 L364.5,126.0 L365.5,125.7 L366.5,125.3 L367.5,125.0 L368.5,124.7 L369.5,124.3 L370.5,124.0 L371.5,123.6 L372.5,123.2 L373.5,122.9 L374.5,122.5 L375.5,122.1 L376.5,121.8 L377.5,121.4 L378.5,121.0 L379.5,120.6 L380.5,120.3 L381.5,119.9 L382.5,119.6 L383.5,119.2 L384.5,118.9 L385.5,118.5 L386.5,118.2 L387.5,117.9 L388.5,117.5 L389.5,117.2 L390.5,116.9 L391.5,116.7 L392.5,116.4 L393.5,116.1 L394.5,115.8 L395.5,115.6 L396.5,115.3 L397.5,115.1 L398.5,114.8 L399.5,114.5 L400.5,114.3 L401.5,114.0 L402.5,113.8 L403.6,113.5 L404.6,113.3 L405.6,113.0 L406.6,112.8 L407.6,112.5 L408.6,112.2 L409.6,111.9 L410.6,111.7 L411.6,111.4 L412.6,111.1 L413.6,110.8 L414.6,110.4 L415.6,110.1 L416.6,109.8 L417.6,109.5 L418.6,109.1 L419.6,108.8 L420.6,108.4 L421.6,108.1 L422.6,107.7 L423.6,107.4 L424.6,107.0 L425.6,106.7 L426.6,106.3 L427.6,105.9 L428.6,105.6 L429.6,105.2 L430.6,104.8 L431.6,104.4 L432.6,104.1 L433.6,103.7" fill="none" stroke="#c01a30" stroke-width="1.2"/>
</g>
<g stroke="#2e2e2e" stroke-width="1.2" fill="none">
<line x1="50.1" y1="19" x2="50.1" y2="178.5"/>
<line x1="50" y1="178.5" x2="447.7" y2="178.5"/>
<line x1="47.50" y1="162.30" x2="50.50" y2="162.30"/><line x1="47.50" y1="120.80" x2="50.50" y2="120.80"/><line x1="47.50" y1="79.30" x2="50.50" y2="79.30"/><line x1="47.50" y1="37.80" x2="50.50" y2="37.80"/><line x1="64.00" y1="178.50" x2="64.00" y2="181.50"/><line x1="87.10" y1="178.50" x2="87.10" y2="181.50"/><line x1="110.20" y1="178.50" x2="110.20" y2="181.50"/><line x1="133.30" y1="178.50" x2="133.30" y2="181.50"/><line x1="156.40" y1="178.50" x2="156.40" y2="181.50"/><line x1="179.50" y1="178.50" x2="179.50" y2="181.50"/><line x1="202.60" y1="178.50" x2="202.60" y2="181.50"/><line x1="225.70" y1="178.50" x2="225.70" y2="181.50"/><line x1="248.80" y1="178.50" x2="248.80" y2="181.50"/><line x1="271.90" y1="178.50" x2="271.90" y2="181.50"/><line x1="295.00" y1="178.50" x2="295.00" y2="181.50"/><line x1="318.10" y1="178.50" x2="318.10" y2="181.50"/><line x1="341.20" y1="178.50" x2="341.20" y2="181.50"/><line x1="364.30" y1="178.50" x2="364.30" y2="181.50"/><line x1="387.40" y1="178.50" x2="387.40" y2="181.50"/><line x1="410.50" y1="178.50" x2="410.50" y2="181.50"/><line x1="433.60" y1="178.50" x2="433.60" y2="181.50"/>
</g>
<g font-size="7.5" fill="#333" text-anchor="end"><text x="44.70" y="164.90">0.0</text><text x="44.70" y="123.40">0.5</text><text x="44.70" y="81.90">1.0</text><text x="44.70" y="40.40">1.5</text></g>
<g font-size="7.3" fill="#333" text-anchor="middle"><text x="64.00" y="191.00">&#8722;5</text><text x="87.10" y="191.00">0</text><text x="110.20" y="191.00">1</text><text x="133.30" y="191.00">2</text><text x="156.40" y="191.00">3</text><text x="179.50" y="191.00">4</text><text x="202.60" y="191.00">5</text><text x="225.70" y="191.00">6</text><text x="248.80" y="191.00">7</text><text x="271.90" y="191.00">8</text><text x="295.00" y="191.00">9</text><text x="318.10" y="191.00">10</text><text x="341.20" y="191.00">11</text><text x="364.30" y="191.00">12</text><text x="387.40" y="191.00">13</text><text x="410.50" y="191.00">14</text><text x="433.60" y="191.00">15</text></g>
<text transform="translate(27.8,98.8) rotate(-90)" font-size="8.4" fill="#111" stroke="#111" stroke-width="0.2" text-anchor="middle" textLength="111.4" lengthAdjust="spacingAndGlyphs">Absolute lymphocyte count (10<tspan font-size="6.3" dy="-2.8">3</tspan><tspan dy="2.8"> cel/uL)</tspan></text>
<text x="214.8" y="203.8" font-size="8.9" fill="#111" stroke="#111" stroke-width="0.2" textLength="68" lengthAdjust="spacingAndGlyphs">Day post CAR-T infusion</text>
<text x="235.9" y="215.4" font-size="7.1" fill="#333" textLength="211.5" lengthAdjust="spacingAndGlyphs">ALC trend by Depth of Best Response &#8211; Only Pts &gt;3m follow-up</text>
<text x="450.9" y="90.1" font-size="7.1" fill="#333" textLength="49.8" lengthAdjust="spacingAndGlyphs">Best Response</text>
<line x1="450.5" y1="99" x2="460.9" y2="99" stroke="#b82848" stroke-width="1.8"/>
<text x="463.6" y="101.4" font-size="7.1" fill="#333" textLength="34.2" lengthAdjust="spacingAndGlyphs">PR or Less</text>
<line x1="450.5" y1="109.8" x2="460.9" y2="109.8" stroke="#2a4868" stroke-width="1.7"/>
<text x="463.6" y="111.8" font-size="7.1" fill="#333" textLength="33" lengthAdjust="spacingAndGlyphs">VGPR/CR</text>

<!-- Panel B -->
<text x="6.2" y="241.7" font-size="11" font-weight="bold" fill="#000">B</text>
<g filter="url(#bl)">
<path d="M64.0,314.6 L65.0,316.2 L66.0,317.9 L67.0,319.6 L68.0,321.3 L69.0,322.9 L70.0,324.6 L71.0,326.2 L72.0,327.9 L73.0,329.5 L74.0,331.1 L75.0,332.7 L76.0,334.3 L77.1,335.8 L78.1,337.4 L79.1,338.9 L80.1,340.4 L81.1,341.8 L82.1,343.3 L83.1,344.7 L84.1,346.1 L85.1,347.4 L86.1,348.7 L87.1,350.0 L88.1,351.2 L89.1,352.5 L90.1,353.6 L91.1,354.8 L92.1,355.9 L93.1,356.9 L94.1,358.0 L95.1,359.0 L96.1,359.9 L97.1,360.9 L98.1,361.8 L99.1,362.7 L100.1,363.5 L101.1,364.3 L102.1,365.1 L103.1,365.8 L104.1,366.6 L105.1,367.2 L106.1,367.9 L107.1,368.5 L108.1,369.1 L109.1,369.7 L110.1,370.3 L111.1,370.8 L112.1,371.3 L113.1,371.7 L114.1,372.2 L115.1,372.6 L116.1,373.0 L117.1,373.3 L118.1,373.6 L119.2,373.9 L120.2,374.1 L121.2,374.3 L122.2,374.5 L123.2,374.7 L124.2,374.8 L125.2,374.8 L126.2,374.8 L127.2,374.8 L128.2,374.8 L129.2,374.7 L130.2,374.6 L131.2,374.5 L132.2,374.4 L133.2,374.3 L134.2,374.2 L135.2,374.0 L136.2,373.9 L137.2,373.7 L138.2,373.6 L139.2,373.4 L140.2,373.2 L141.2,373.1 L142.2,372.9 L143.2,372.7 L144.2,372.5 L145.2,372.3 L146.2,372.2 L147.2,372.0 L148.2,371.8 L149.2,371.6 L150.2,371.4 L151.2,371.2 L152.2,371.0 L153.2,370.8 L154.2,370.6 L155.2,370.4 L156.2,370.2 L157.2,369.9 L158.2,369.7 L159.2,369.5 L160.2,369.3 L161.3,369.1 L162.3,368.9 L163.3,368.7 L164.3,368.5 L165.3,368.3 L166.3,368.1 L167.3,367.9 L168.3,367.7 L169.3,367.5 L170.3,367.3 L171.3,367.1 L172.3,366.9 L173.3,366.7 L174.3,366.5 L175.3,366.3 L176.3,366.1 L177.3,366.0 L178.3,365.8 L179.3,365.6 L180.3,365.5 L181.3,365.3 L182.3,365.1 L183.3,365.0 L184.3,364.8 L185.3,364.7 L186.3,364.6 L187.3,364.4 L188.3,364.3 L189.3,364.2 L190.3,364.1 L191.3,363.9 L192.3,363.8 L193.3,363.7 L194.3,363.6 L195.3,363.5 L196.3,363.4 L197.3,363.3 L198.3,363.3 L199.3,363.2 L200.3,363.1 L201.3,363.0 L202.3,363.0 L203.4,362.9 L204.4,362.9 L205.4,362.8 L206.4,362.8 L207.4,362.7 L208.4,362.7 L209.4,362.6 L210.4,362.6 L211.4,362.5 L212.4,362.5 L213.4,362.5 L214.4,362.4 L215.4,362.4 L216.4,362.3 L217.4,362.3 L218.4,362.3 L219.4,362.2 L220.4,362.2 L221.4,362.1 L222.4,362.1 L223.4,362.0 L224.4,361.9 L225.4,361.9 L226.4,361.8 L227.4,361.7 L228.4,361.6 L229.4,361.5 L230.4,361.5 L231.4,361.3 L232.4,361.2 L233.4,361.1 L234.4,361.0 L235.4,360.9 L236.4,360.7 L237.4,360.6 L238.4,360.4 L239.4,360.3 L240.4,360.1 L241.4,359.9 L242.4,359.7 L243.4,359.5 L244.4,359.3 L245.5,359.1 L246.5,358.9 L247.5,358.7 L248.5,358.4 L249.5,358.2 L250.5,357.9 L251.5,357.7 L252.5,357.4 L253.5,357.1 L254.5,356.8 L255.5,356.4 L256.5,356.1 L257.5,355.8 L258.5,355.4 L259.5,355.0 L260.5,354.6 L261.5,354.1 L262.5,353.7 L263.5,353.2 L264.5,352.7 L265.5,352.2 L266.5,351.7 L267.5,351.1 L268.5,350.5 L269.5,349.9 L270.5,349.2 L271.5,348.5 L272.5,347.8 L273.5,347.1 L274.5,346.3 L275.5,345.5 L276.5,344.6 L277.5,343.8 L278.5,342.9 L279.5,342.0 L280.5,341.0 L281.5,340.1 L282.5,339.1 L283.5,338.1 L284.5,337.1 L285.5,336.0 L286.5,335.0 L287.6,333.9 L288.6,332.8 L289.6,331.7 L290.6,330.6 L291.6,329.5 L292.6,328.4 L293.6,327.3 L294.6,326.1 L295.6,325.0 L296.6,323.8 L297.6,322.7 L298.6,321.5 L299.6,320.3 L300.6,319.2 L301.6,318.0 L302.6,316.8 L303.6,315.6 L304.6,314.4 L305.6,313.2 L306.6,312.0 L307.6,310.7 L308.6,309.5 L309.6,308.2 L310.6,306.9 L311.6,305.7 L312.6,304.4 L313.6,303.1 L314.6,301.7 L315.6,300.4 L316.6,299.0 L317.6,297.6 L318.6,296.2 L319.6,294.8 L320.6,293.4 L321.6,291.9 L322.6,290.5 L323.6,289.0 L324.6,287.6 L325.6,286.1 L326.6,284.6 L327.6,283.2 L328.6,281.7 L329.7,280.2 L330.7,278.8 L331.7,277.4 L332.7,276.0 L333.7,274.6 L334.7,273.3 L335.7,272.0 L336.7,270.7 L337.7,269.4 L338.7,268.2 L339.7,267.0 L340.7,265.9 L341.7,264.8 L342.7,263.8 L343.7,262.8 L344.7,261.9 L345.7,261.0 L346.7,260.2 L347.7,259.4 L348.7,258.6 L349.7,257.9 L350.7,257.3 L351.7,256.7 L352.7,256.1 L353.7,255.6 L354.7,255.1 L355.7,254.7 L356.7,254.2 L357.7,253.9 L358.7,253.5 L359.7,253.2 L360.7,253.0 L361.7,252.7 L362.7,252.5 L363.7,252.3 L364.7,252.2 L365.7,252.0 L366.7,251.9 L367.7,251.9 L368.7,251.8 L369.7,251.8 L370.7,251.8 L371.8,251.8 L372.8,251.9 L373.8,251.9 L374.8,252.0 L375.8,252.1 L376.8,252.2 L377.8,252.3 L378.8,252.4 L379.8,252.6 L380.8,252.7 L381.8,252.9 L382.8,253.1 L383.8,253.2 L384.8,253.4 L385.8,253.6 L386.8,253.8 L387.8,254.0 L388.8,254.2 L389.8,254.4 L390.8,254.6 L391.8,254.8 L392.8,255.0 L393.8,255.2 L394.8,255.4 L395.8,255.6 L396.8,255.8 L397.8,256.0 L398.8,256.2 L399.8,256.4 L400.8,256.5 L401.8,256.7 L402.8,256.9 L403.8,257.0 L404.8,257.1 L405.8,257.3 L406.8,257.4 L407.8,257.5 L408.8,257.6 L409.8,257.6 L410.8,257.7 L411.8,257.7 L412.8,257.8 L413.9,257.8 L414.9,257.8 L415.9,257.8 L416.9,257.8 L417.9,257.7 L418.9,257.7 L419.9,257.6 L420.9,257.6 L421.9,257.5 L422.9,257.4 L423.9,257.3 L424.9,257.2 L425.9,257.1 L426.9,257.0 L427.9,256.9 L428.9,256.8 L429.9,256.7 L430.9,256.5 L431.9,256.4 L432.9,256.3 L433.9,256.1 L434.9,256.0 L434.9,297.2 L433.9,296.6 L432.9,295.9 L431.9,295.3 L430.9,294.7 L429.9,294.1 L428.9,293.5 L427.9,292.9 L426.9,292.2 L425.9,291.7 L424.9,291.1 L423.9,290.5 L422.9,289.9 L421.9,289.3 L420.9,288.8 L419.9,288.2 L418.9,287.7 L417.9,287.2 L416.9,286.7 L415.9,286.2 L414.9,285.7 L413.9,285.2 L412.8,284.8 L411.8,284.3 L410.8,283.9 L409.8,283.5 L408.8,283.1 L407.8,282.7 L406.8,282.4 L405.8,282.0 L404.8,281.7 L403.8,281.4 L402.8,281.0 L401.8,280.7 L400.8,280.4 L399.8,280.2 L398.8,279.9 L397.8,279.6 L396.8,279.3 L395.8,279.1 L394.8,278.8 L393.8,278.6 L392.8,278.3 L391.8,278.0 L390.8,277.8 L389.8,277.5 L388.8,277.3 L387.8,277.0 L386.8,276.8 L385.8,276.5 L384.8,276.3 L383.8,276.0 L382.8,275.8 L381.8,275.5 L380.8,275.3 L379.8,275.1 L378.8,274.9 L377.8,274.8 L376.8,274.6 L375.8,274.5 L374.8,274.4 L373.8,274.3 L372.8,274.3 L371.8,274.3 L370.7,274.3 L369.7,274.4 L368.7,274.5 L367.7,274.6 L366.7,274.8 L365.7,275.0 L364.7,275.3 L363.7,275.6 L362.7,276.0 L361.7,276.4 L360.7,276.9 L359.7,277.4 L358.7,277.9 L357.7,278.5 L356.7,279.1 L355.7,279.8 L354.7,280.5 L353.7,281.3 L352.7,282.0 L351.7,282.9 L350.7,283.7 L349.7,284.6 L348.7,285.5 L347.7,286.5 L346.7,287.4 L345.7,288.5 L344.7,289.5 L343.7,290.6 L342.7,291.7 L341.7,292.8 L340.7,293.9 L339.7,295.1 L338.7,296.3 L337.7,297.5 L336.7,298.7 L335.7,300.0 L334.7,301.3 L333.7,302.5 L332.7,303.8 L331.7,305.2 L330.7,306.5 L329.7,307.8 L328.6,309.1 L327.6,310.5 L326.6,311.8 L325.6,313.2 L324.6,314.6 L323.6,315.9 L322.6,317.3 L321.6,318.7 L320.6,320.0 L319.6,321.4 L318.6,322.7 L317.6,324.1 L316.6,325.4 L315.6,326.8 L314.6,328.1 L313.6,329.4 L312.6,330.7 L311.6,332.0 L310.6,333.3 L309.6,334.6 L308.6,335.9 L307.6,337.2 L306.6,338.4 L305.6,339.7 L304.6,340.9 L303.6,342.2 L302.6,343.4 L301.6,344.6 L300.6,345.8 L299.6,346.9 L298.6,348.1 L297.6,349.2 L296.6,350.4 L295.6,351.5 L294.6,352.6 L293.6,353.7 L292.6,354.7 L291.6,355.8 L290.6,356.8 L289.6,357.8 L288.6,358.8 L287.6,359.8 L286.5,360.7 L285.5,361.7 L284.5,362.6 L283.5,363.5 L282.5,364.3 L281.5,365.2 L280.5,366.0 L279.5,366.8 L278.5,367.5 L277.5,368.3 L276.5,369.0 L275.5,369.6 L274.5,370.3 L273.5,370.9 L272.5,371.5 L271.5,372.1 L270.5,372.6 L269.5,373.1 L268.5,373.6 L267.5,374.1 L266.5,374.5 L265.5,374.9 L264.5,375.3 L263.5,375.7 L262.5,376.0 L261.5,376.3 L260.5,376.6 L259.5,376.9 L258.5,377.2 L257.5,377.5 L256.5,377.7 L255.5,377.9 L254.5,378.2 L253.5,378.4 L252.5,378.6 L251.5,378.8 L250.5,378.9 L249.5,379.1 L248.5,379.3 L247.5,379.5 L246.5,379.6 L245.5,379.8 L244.4,380.0 L243.4,380.1 L242.4,380.3 L241.4,380.4 L240.4,380.6 L239.4,380.7 L238.4,380.9 L237.4,381.0 L236.4,381.2 L235.4,381.3 L234.4,381.5 L233.4,381.6 L232.4,381.8 L231.4,381.9 L230.4,382.1 L229.4,382.2 L228.4,382.4 L227.4,382.6 L226.4,382.7 L225.4,382.9 L224.4,383.1 L223.4,383.3 L222.4,383.5 L221.4,383.6 L220.4,383.8 L219.4,384.0 L218.4,384.2 L217.4,384.4 L216.4,384.6 L215.4,384.8 L214.4,385.0 L213.4,385.1 L212.4,385.3 L211.4,385.5 L210.4,385.7 L209.4,385.8 L208.4,386.0 L207.4,386.1 L206.4,386.3 L205.4,386.4 L204.4,386.5 L203.4,386.6 L202.3,386.7 L201.3,386.8 L200.3,386.9 L199.3,387.0 L198.3,387.1 L197.3,387.1 L196.3,387.2 L195.3,387.2 L194.3,387.3 L193.3,387.3 L192.3,387.3 L191.3,387.4 L190.3,387.4 L189.3,387.4 L188.3,387.5 L187.3,387.5 L186.3,387.5 L185.3,387.6 L184.3,387.6 L183.3,387.7 L182.3,387.7 L181.3,387.8 L180.3,387.8 L179.3,387.9 L178.3,388.0 L177.3,388.0 L176.3,388.1 L175.3,388.2 L174.3,388.3 L173.3,388.4 L172.3,388.5 L171.3,388.7 L170.3,388.8 L169.3,388.9 L168.3,389.1 L167.3,389.2 L166.3,389.3 L165.3,389.5 L164.3,389.7 L163.3,389.8 L162.3,390.0 L161.3,390.2 L160.2,390.3 L159.2,390.5 L158.2,390.7 L157.2,390.9 L156.2,391.1 L155.2,391.3 L154.2,391.5 L153.2,391.7 L152.2,391.9 L151.2,392.1 L150.2,392.3 L149.2,392.5 L148.2,392.7 L147.2,392.9 L146.2,393.1 L145.2,393.3 L144.2,393.5 L143.2,393.7 L142.2,393.9 L141.2,394.1 L140.2,394.2 L139.2,394.4 L138.2,394.6 L137.2,394.7 L136.2,394.9 L135.2,395.0 L134.2,395.1 L133.2,395.2 L132.2,395.3 L131.2,395.4 L130.2,395.5 L129.2,395.5 L128.2,395.6 L127.2,395.6 L126.2,395.7 L125.2,395.7 L124.2,395.8 L123.2,395.8 L122.2,395.8 L121.2,395.8 L120.2,395.7 L119.2,395.7 L118.1,395.6 L117.1,395.6 L116.1,395.4 L115.1,395.3 L114.1,395.1 L113.1,394.9 L112.1,394.7 L111.1,394.4 L110.1,394.0 L109.1,393.7 L108.1,393.2 L107.1,392.8 L106.1,392.3 L105.1,391.7 L104.1,391.2 L103.1,390.6 L102.1,389.9 L101.1,389.3 L100.1,388.6 L99.1,387.9 L98.1,387.1 L97.1,386.4 L96.1,385.6 L95.1,384.8 L94.1,384.0 L93.1,383.1 L92.1,382.3 L91.1,381.4 L90.1,380.6 L89.1,379.7 L88.1,378.8 L87.1,378.0 L86.1,377.1 L85.1,376.2 L84.1,375.4 L83.1,374.5 L82.1,373.6 L81.1,372.7 L80.1,371.9 L79.1,371.0 L78.1,370.1 L77.1,369.2 L76.0,368.4 L75.0,367.5 L74.0,366.6 L73.0,365.7 L72.0,364.8 L71.0,364.0 L70.0,363.1 L69.0,362.2 L68.0,361.3 L67.0,360.5 L66.0,359.6 L65.0,358.7 L64.0,357.8 Z" fill="#8a8a98" fill-opacity="0.3" stroke="none"/>
<path d="M64.0,324.0 L65.0,325.2 L66.0,326.4 L67.0,327.7 L68.0,328.9 L69.0,330.1 L70.0,331.3 L71.0,332.6 L72.0,333.8 L73.0,335.0 L74.0,336.2 L75.0,337.4 L76.0,338.6 L77.1,339.8 L78.1,341.0 L79.1,342.2 L80.1,343.4 L81.1,344.5 L82.1,345.7 L83.1,346.9 L84.1,348.0 L85.1,349.2 L86.1,350.3 L87.1,351.4 L88.1,352.5 L89.1,353.6 L90.1,354.7 L91.1,355.8 L92.1,356.9 L93.1,357.9 L94.1,359.0 L95.1,360.0 L96.1,361.0 L97.1,361.9 L98.1,362.9 L99.1,363.8 L100.1,364.7 L101.1,365.6 L102.1,366.4 L103.1,367.2 L104.1,368.0 L105.1,368.8 L106.1,369.5 L107.1,370.2 L108.1,370.8 L109.1,371.4 L110.1,372.0 L111.1,372.5 L112.1,373.0 L113.1,373.5 L114.1,373.9 L115.1,374.3 L116.1,374.6 L117.1,374.9 L118.1,375.1 L119.2,375.4 L120.2,375.6 L121.2,375.7 L122.2,375.8 L123.2,375.9 L124.2,376.0 L125.2,376.0 L126.2,376.0 L127.2,375.9 L128.2,375.9 L129.2,375.8 L130.2,375.7 L131.2,375.6 L132.2,375.5 L133.2,375.3 L134.2,375.2 L135.2,375.1 L136.2,374.9 L137.2,374.8 L138.2,374.6 L139.2,374.5 L140.2,374.3 L141.2,374.1 L142.2,374.0 L143.2,373.8 L144.2,373.7 L145.2,373.5 L146.2,373.3 L147.2,373.1 L148.2,373.0 L149.2,372.8 L150.2,372.6 L151.2,372.4 L152.2,372.3 L153.2,372.1 L154.2,371.9 L155.2,371.7 L156.2,371.5 L157.2,371.4 L158.2,371.2 L159.2,371.0 L160.2,370.8 L161.3,370.6 L162.3,370.5 L163.3,370.3 L164.3,370.1 L165.3,369.9 L166.3,369.7 L167.3,369.6 L168.3,369.4 L169.3,369.2 L170.3,369.1 L171.3,368.9 L172.3,368.7 L173.3,368.6 L174.3,368.4 L175.3,368.3 L176.3,368.1 L177.3,368.0 L178.3,367.8 L179.3,367.7 L180.3,367.6 L181.3,367.4 L182.3,367.3 L183.3,367.2 L184.3,367.1 L185.3,366.9 L186.3,366.8 L187.3,366.7 L188.3,366.6 L189.3,366.5 L190.3,366.4 L191.3,366.3 L192.3,366.2 L193.3,366.1 L194.3,366.0 L195.3,365.9 L196.3,365.8 L197.3,365.7 L198.3,365.6 L199.3,365.5 L200.3,365.4 L201.3,365.3 L202.3,365.2 L203.4,365.1 L204.4,365.0 L205.4,364.9 L206.4,364.8 L207.4,364.7 L208.4,364.6 L209.4,364.5 L210.4,364.4 L211.4,364.3 L212.4,364.2 L213.4,364.1 L214.4,364.0 L215.4,363.8 L216.4,363.7 L217.4,363.6 L218.4,363.4 L219.4,363.3 L220.4,363.2 L221.4,363.0 L222.4,362.9 L223.4,362.7 L224.4,362.6 L225.4,362.4 L226.4,362.2 L227.4,362.0 L228.4,361.8 L229.4,361.7 L230.4,361.5 L231.4,361.3 L232.4,361.1 L233.4,360.9 L234.4,360.6 L235.4,360.4 L236.4,360.2 L237.4,360.0 L238.4,359.8 L239.4,359.5 L240.4,359.3 L241.4,359.1 L242.4,358.8 L243.4,358.6 L244.4,358.4 L245.5,358.1 L246.5,357.9 L247.5,357.6 L248.5,357.4 L249.5,357.1 L250.5,356.9 L251.5,356.6 L252.5,356.4 L253.5,356.2 L254.5,355.9 L255.5,355.7 L256.5,355.4 L257.5,355.2 L258.5,354.9 L259.5,354.6 L260.5,354.4 L261.5,354.1 L262.5,353.9 L263.5,353.6 L264.5,353.4 L265.5,353.1 L266.5,352.8 L267.5,352.6 L268.5,352.3 L269.5,352.0 L270.5,351.8 L271.5,351.5 L272.5,351.2 L273.5,351.0 L274.5,350.7 L275.5,350.4 L276.5,350.1 L277.5,349.8 L278.5,349.6 L279.5,349.3 L280.5,349.0 L281.5,348.7 L282.5,348.4 L283.5,348.1 L284.5,347.7 L285.5,347.4 L286.5,347.1 L287.6,346.8 L288.6,346.5 L289.6,346.1 L290.6,345.8 L291.6,345.4 L292.6,345.1 L293.6,344.7 L294.6,344.3 L295.6,344.0 L296.6,343.6 L297.6,343.2 L298.6,342.8 L299.6,342.4 L300.6,342.0 L301.6,341.6 L302.6,341.2 L303.6,340.8 L304.6,340.4 L305.6,339.9 L306.6,339.5 L307.6,339.1 L308.6,338.7 L309.6,338.3 L310.6,337.9 L311.6,337.5 L312.6,337.1 L313.6,336.7 L314.6,336.3 L315.6,335.9 L316.6,335.5 L317.6,335.2 L318.6,334.8 L319.6,334.4 L320.6,334.1 L321.6,333.8 L322.6,333.4 L323.6,333.1 L324.6,332.8 L325.6,332.5 L326.6,332.2 L327.6,332.0 L328.6,331.7 L329.7,331.4 L330.7,331.1 L331.7,330.9 L332.7,330.6 L333.7,330.4 L334.7,330.2 L335.7,329.9 L336.7,329.7 L337.7,329.5 L338.7,329.3 L339.7,329.0 L340.7,328.8 L341.7,328.6 L342.7,328.4 L343.7,328.2 L344.7,328.0 L345.7,327.8 L346.7,327.6 L347.7,327.4 L348.7,327.3 L349.7,327.1 L350.7,326.9 L351.7,326.7 L352.7,326.5 L353.7,326.4 L354.7,326.2 L355.7,326.0 L356.7,325.9 L357.7,325.7 L358.7,325.6 L359.7,325.4 L360.7,325.2 L361.7,325.1 L362.7,324.9 L363.7,324.8 L364.7,324.6 L365.7,324.5 L366.7,324.3 L367.7,324.2 L368.7,324.1 L369.7,323.9 L370.7,323.8 L371.8,323.6 L372.8,323.5 L373.8,323.3 L374.8,323.2 L375.8,323.1 L376.8,322.9 L377.8,322.8 L378.8,322.6 L379.8,322.5 L380.8,322.3 L381.8,322.2 L382.8,322.0 L383.8,321.9 L384.8,321.7 L385.8,321.6 L386.8,321.4 L387.8,321.2 L388.8,321.1 L389.8,320.9 L390.8,320.7 L391.8,320.5 L392.8,320.4 L393.8,320.2 L394.8,320.0 L395.8,319.8 L396.8,319.6 L397.8,319.4 L398.8,319.1 L399.8,318.9 L400.8,318.7 L401.8,318.4 L402.8,318.2 L403.8,317.9 L404.8,317.7 L405.8,317.4 L406.8,317.1 L407.8,316.8 L408.8,316.5 L409.8,316.2 L410.8,315.9 L411.8,315.6 L412.8,315.2 L413.9,314.9 L414.9,314.5 L415.9,314.1 L416.9,313.8 L417.9,313.4 L418.9,313.0 L419.9,312.6 L420.9,312.2 L421.9,311.8 L422.9,311.3 L423.9,310.9 L424.9,310.5 L425.9,310.0 L426.9,309.6 L427.9,309.2 L428.9,308.7 L429.9,308.3 L430.9,307.8 L431.9,307.3 L432.9,306.9 L433.9,306.4 L434.9,306.0 L434.9,330.7 L433.9,330.9 L432.9,331.1 L431.9,331.2 L430.9,331.4 L429.9,331.6 L428.9,331.8 L427.9,332.0 L426.9,332.2 L425.9,332.4 L424.9,332.6 L423.9,332.8 L422.9,333.0 L421.9,333.2 L420.9,333.3 L419.9,333.5 L418.9,333.7 L417.9,333.9 L416.9,334.1 L415.9,334.3 L414.9,334.5 L413.9,334.7 L412.8,334.9 L411.8,335.1 L410.8,335.3 L409.8,335.5 L408.8,335.7 L407.8,335.9 L406.8,336.1 L405.8,336.3 L404.8,336.5 L403.8,336.7 L402.8,336.9 L401.8,337.1 L400.8,337.3 L399.8,337.5 L398.8,337.7 L397.8,337.9 L396.8,338.1 L395.8,338.2 L394.8,338.4 L393.8,338.6 L392.8,338.7 L391.8,338.9 L390.8,339.0 L389.8,339.1 L388.8,339.2 L387.8,339.4 L386.8,339.5 L385.8,339.6 L384.8,339.6 L383.8,339.7 L382.8,339.8 L381.8,339.9 L380.8,340.0 L379.8,340.0 L378.8,340.1 L377.8,340.2 L376.8,340.2 L375.8,340.3 L374.8,340.4 L373.8,340.4 L372.8,340.5 L371.8,340.6 L370.7,340.7 L369.7,340.8 L368.7,340.9 L367.7,341.0 L366.7,341.1 L365.7,341.2 L364.7,341.4 L363.7,341.5 L362.7,341.7 L361.7,341.9 L360.7,342.0 L359.7,342.2 L358.7,342.4 L357.7,342.6 L356.7,342.8 L355.7,343.0 L354.7,343.3 L353.7,343.5 L352.7,343.8 L351.7,344.0 L350.7,344.3 L349.7,344.5 L348.7,344.8 L347.7,345.1 L346.7,345.3 L345.7,345.6 L344.7,345.9 L343.7,346.2 L342.7,346.5 L341.7,346.8 L340.7,347.1 L339.7,347.4 L338.7,347.8 L337.7,348.1 L336.7,348.4 L335.7,348.7 L334.7,349.0 L333.7,349.4 L332.7,349.7 L331.7,350.0 L330.7,350.4 L329.7,350.7 L328.6,351.0 L327.6,351.4 L326.6,351.7 L325.6,352.0 L324.6,352.4 L323.6,352.7 L322.6,353.0 L321.6,353.3 L320.6,353.7 L319.6,354.0 L318.6,354.3 L317.6,354.7 L316.6,355.0 L315.6,355.3 L314.6,355.6 L313.6,355.9 L312.6,356.2 L311.6,356.6 L310.6,356.9 L309.6,357.2 L308.6,357.5 L307.6,357.8 L306.6,358.1 L305.6,358.4 L304.6,358.7 L303.6,359.0 L302.6,359.3 L301.6,359.6 L300.6,359.9 L299.6,360.2 L298.6,360.5 L297.6,360.8 L296.6,361.1 L295.6,361.4 L294.6,361.7 L293.6,362.0 L292.6,362.3 L291.6,362.6 L290.6,362.9 L289.6,363.2 L288.6,363.5 L287.6,363.7 L286.5,364.0 L285.5,364.3 L284.5,364.6 L283.5,364.9 L282.5,365.2 L281.5,365.5 L280.5,365.8 L279.5,366.0 L278.5,366.3 L277.5,366.6 L276.5,366.9 L275.5,367.2 L274.5,367.4 L273.5,367.7 L272.5,368.0 L271.5,368.3 L270.5,368.5 L269.5,368.8 L268.5,369.1 L267.5,369.3 L266.5,369.6 L265.5,369.9 L264.5,370.1 L263.5,370.4 L262.5,370.7 L261.5,370.9 L260.5,371.2 L259.5,371.4 L258.5,371.7 L257.5,371.9 L256.5,372.2 L255.5,372.4 L254.5,372.7 L253.5,372.9 L252.5,373.2 L251.5,373.4 L250.5,373.7 L249.5,373.9 L248.5,374.1 L247.5,374.4 L246.5,374.6 L245.5,374.8 L244.4,375.0 L243.4,375.3 L242.4,375.5 L241.4,375.7 L240.4,375.9 L239.4,376.2 L238.4,376.4 L237.4,376.6 L236.4,376.8 L235.4,377.0 L234.4,377.2 L233.4,377.5 L232.4,377.7 L231.4,377.9 L230.4,378.1 L229.4,378.3 L228.4,378.5 L227.4,378.7 L226.4,379.0 L225.4,379.2 L224.4,379.4 L223.4,379.6 L222.4,379.8 L221.4,380.0 L220.4,380.2 L219.4,380.4 L218.4,380.6 L217.4,380.8 L216.4,381.0 L215.4,381.2 L214.4,381.4 L213.4,381.6 L212.4,381.8 L211.4,382.0 L210.4,382.2 L209.4,382.3 L208.4,382.5 L207.4,382.7 L206.4,382.8 L205.4,383.0 L204.4,383.1 L203.4,383.3 L202.3,383.4 L201.3,383.5 L200.3,383.7 L199.3,383.8 L198.3,383.9 L197.3,384.0 L196.3,384.1 L195.3,384.2 L194.3,384.3 L193.3,384.4 L192.3,384.5 L191.3,384.6 L190.3,384.7 L189.3,384.8 L188.3,384.9 L187.3,385.0 L186.3,385.1 L185.3,385.2 L184.3,385.3 L183.3,385.4 L182.3,385.5 L181.3,385.6 L180.3,385.7 L179.3,385.8 L178.3,386.0 L177.3,386.1 L176.3,386.2 L175.3,386.4 L174.3,386.5 L173.3,386.7 L172.3,386.8 L171.3,387.0 L170.3,387.2 L169.3,387.3 L168.3,387.5 L167.3,387.7 L166.3,387.8 L165.3,388.0 L164.3,388.2 L163.3,388.4 L162.3,388.6 L161.3,388.8 L160.2,388.9 L159.2,389.1 L158.2,389.3 L157.2,389.5 L156.2,389.7 L155.2,389.9 L154.2,390.1 L153.2,390.2 L152.2,390.4 L151.2,390.6 L150.2,390.8 L149.2,391.0 L148.2,391.2 L147.2,391.3 L146.2,391.5 L145.2,391.7 L144.2,391.9 L143.2,392.0 L142.2,392.2 L141.2,392.3 L140.2,392.5 L139.2,392.7 L138.2,392.8 L137.2,393.0 L136.2,393.1 L135.2,393.2 L134.2,393.4 L133.2,393.5 L132.2,393.6 L131.2,393.7 L130.2,393.8 L129.2,393.9 L128.2,394.0 L127.2,394.0 L126.2,394.1 L125.2,394.1 L124.2,394.1 L123.2,394.1 L122.2,394.1 L121.2,394.0 L120.2,394.0 L119.2,393.9 L118.1,393.7 L117.1,393.6 L116.1,393.4 L115.1,393.2 L114.1,392.9 L113.1,392.7 L112.1,392.3 L111.1,392.0 L110.1,391.6 L109.1,391.2 L108.1,390.7 L107.1,390.2 L106.1,389.6 L105.1,389.1 L104.1,388.5 L103.1,387.9 L102.1,387.2 L101.1,386.5 L100.1,385.8 L99.1,385.1 L98.1,384.3 L97.1,383.6 L96.1,382.8 L95.1,382.0 L94.1,381.2 L93.1,380.3 L92.1,379.5 L91.1,378.6 L90.1,377.8 L89.1,376.9 L88.1,376.0 L87.1,375.2 L86.1,374.3 L85.1,373.4 L84.1,372.5 L83.1,371.7 L82.1,370.8 L81.1,369.9 L80.1,369.0 L79.1,368.1 L78.1,367.2 L77.1,366.3 L76.0,365.4 L75.0,364.6 L74.0,363.7 L73.0,362.8 L72.0,361.9 L71.0,361.0 L70.0,360.1 L69.0,359.2 L68.0,358.3 L67.0,357.4 L66.0,356.5 L65.0,355.6 L64.0,354.7 Z" fill="#8a8a98" fill-opacity="0.3" stroke="none"/>
<path d="M64.0,336.2 L65.0,337.5 L66.0,338.8 L67.0,340.0 L68.0,341.3 L69.0,342.6 L70.0,343.8 L71.0,345.1 L72.0,346.4 L73.0,347.6 L74.0,348.8 L75.0,350.1 L76.0,351.3 L77.1,352.5 L78.1,353.7 L79.1,354.9 L80.1,356.1 L81.1,357.3 L82.1,358.4 L83.1,359.6 L84.1,360.7 L85.1,361.8 L86.1,362.9 L87.1,364.0 L88.1,365.0 L89.1,366.1 L90.1,367.1 L91.1,368.1 L92.1,369.1 L93.1,370.0 L94.1,371.0 L95.1,371.9 L96.1,372.8 L97.1,373.6 L98.1,374.5 L99.1,375.3 L100.1,376.0 L101.1,376.8 L102.1,377.5 L103.1,378.2 L104.1,378.9 L105.1,379.5 L106.1,380.1 L107.1,380.7 L108.1,381.2 L109.1,381.7 L110.1,382.2 L111.1,382.6 L112.1,383.0 L113.1,383.3 L114.1,383.7 L115.1,383.9 L116.1,384.2 L117.1,384.4 L118.1,384.6 L119.2,384.8 L120.2,384.9 L121.2,385.1 L122.2,385.1 L123.2,385.2 L124.2,385.3 L125.2,385.3 L126.2,385.3 L127.2,385.2 L128.2,385.2 L129.2,385.1 L130.2,385.1 L131.2,385.0 L132.2,384.9 L133.2,384.8 L134.2,384.6 L135.2,384.5 L136.2,384.4 L137.2,384.2 L138.2,384.1 L139.2,383.9 L140.2,383.7 L141.2,383.6 L142.2,383.4 L143.2,383.2 L144.2,383.0 L145.2,382.8 L146.2,382.6 L147.2,382.4 L148.2,382.2 L149.2,382.0 L150.2,381.8 L151.2,381.6 L152.2,381.4 L153.2,381.2 L154.2,381.0 L155.2,380.8 L156.2,380.6 L157.2,380.4 L158.2,380.2 L159.2,380.0 L160.2,379.8 L161.3,379.6 L162.3,379.4 L163.3,379.3 L164.3,379.1 L165.3,378.9 L166.3,378.7 L167.3,378.5 L168.3,378.4 L169.3,378.2 L170.3,378.0 L171.3,377.9 L172.3,377.7 L173.3,377.6 L174.3,377.4 L175.3,377.3 L176.3,377.1 L177.3,377.0 L178.3,376.9 L179.3,376.8 L180.3,376.6 L181.3,376.5 L182.3,376.4 L183.3,376.3 L184.3,376.2 L185.3,376.1 L186.3,376.1 L187.3,376.0 L188.3,375.9 L189.3,375.8 L190.3,375.7 L191.3,375.7 L192.3,375.6 L193.3,375.5 L194.3,375.4 L195.3,375.4 L196.3,375.3 L197.3,375.2 L198.3,375.2 L199.3,375.1 L200.3,375.0 L201.3,374.9 L202.3,374.9 L203.4,374.8 L204.4,374.7 L205.4,374.6 L206.4,374.5 L207.4,374.4 L208.4,374.3 L209.4,374.2 L210.4,374.1 L211.4,374.0 L212.4,373.9 L213.4,373.8 L214.4,373.7 L215.4,373.6 L216.4,373.5 L217.4,373.4 L218.4,373.2 L219.4,373.1 L220.4,373.0 L221.4,372.9 L222.4,372.8 L223.4,372.6 L224.4,372.5 L225.4,372.4 L226.4,372.3 L227.4,372.1 L228.4,372.0 L229.4,371.9 L230.4,371.8 L231.4,371.6 L232.4,371.5 L233.4,371.4 L234.4,371.2 L235.4,371.1 L236.4,370.9 L237.4,370.8 L238.4,370.6 L239.4,370.5 L240.4,370.3 L241.4,370.2 L242.4,370.0 L243.4,369.8 L244.4,369.6 L245.5,369.5 L246.5,369.3 L247.5,369.1 L248.5,368.9 L249.5,368.7 L250.5,368.4 L251.5,368.2 L252.5,368.0 L253.5,367.7 L254.5,367.5 L255.5,367.2 L256.5,366.9 L257.5,366.6 L258.5,366.3 L259.5,366.0 L260.5,365.6 L261.5,365.2 L262.5,364.8 L263.5,364.4 L264.5,364.0 L265.5,363.6 L266.5,363.1 L267.5,362.6 L268.5,362.0 L269.5,361.5 L270.5,360.9 L271.5,360.3 L272.5,359.7 L273.5,359.0 L274.5,358.3 L275.5,357.6 L276.5,356.8 L277.5,356.0 L278.5,355.2 L279.5,354.4 L280.5,353.5 L281.5,352.6 L282.5,351.7 L283.5,350.8 L284.5,349.8 L285.5,348.9 L286.5,347.9 L287.6,346.8 L288.6,345.8 L289.6,344.8 L290.6,343.7 L291.6,342.6 L292.6,341.6 L293.6,340.5 L294.6,339.3 L295.6,338.2 L296.6,337.1 L297.6,335.9 L298.6,334.8 L299.6,333.6 L300.6,332.5 L301.6,331.3 L302.6,330.1 L303.6,328.9 L304.6,327.7 L305.6,326.4 L306.6,325.2 L307.6,324.0 L308.6,322.7 L309.6,321.4 L310.6,320.1 L311.6,318.9 L312.6,317.6 L313.6,316.2 L314.6,314.9 L315.6,313.6 L316.6,312.2 L317.6,310.9 L318.6,309.5 L319.6,308.1 L320.6,306.7 L321.6,305.3 L322.6,303.9 L323.6,302.5 L324.6,301.1 L325.6,299.6 L326.6,298.2 L327.6,296.8 L328.6,295.4 L329.7,294.0 L330.7,292.6 L331.7,291.3 L332.7,289.9 L333.7,288.6 L334.7,287.3 L335.7,286.0 L336.7,284.7 L337.7,283.5 L338.7,282.3 L339.7,281.1 L340.7,279.9 L341.7,278.8 L342.7,277.7 L343.7,276.7 L344.7,275.7 L345.7,274.7 L346.7,273.8 L347.7,272.9 L348.7,272.1 L349.7,271.3 L350.7,270.5 L351.7,269.8 L352.7,269.1 L353.7,268.4 L354.7,267.8 L355.7,267.2 L356.7,266.7 L357.7,266.2 L358.7,265.7 L359.7,265.3 L360.7,264.9 L361.7,264.6 L362.7,264.2 L363.7,264.0 L364.7,263.7 L365.7,263.5 L366.7,263.4 L367.7,263.2 L368.7,263.1 L369.7,263.1 L370.7,263.1 L371.8,263.0 L372.8,263.1 L373.8,263.1 L374.8,263.2 L375.8,263.3 L376.8,263.4 L377.8,263.5 L378.8,263.7 L379.8,263.8 L380.8,264.0 L381.8,264.2 L382.8,264.4 L383.8,264.6 L384.8,264.8 L385.8,265.1 L386.8,265.3 L387.8,265.5 L388.8,265.8 L389.8,266.0 L390.8,266.2 L391.8,266.4 L392.8,266.7 L393.8,266.9 L394.8,267.1 L395.8,267.4 L396.8,267.6 L397.8,267.8 L398.8,268.0 L399.8,268.3 L400.8,268.5 L401.8,268.7 L402.8,269.0 L403.8,269.2 L404.8,269.4 L405.8,269.6 L406.8,269.9 L407.8,270.1 L408.8,270.3 L409.8,270.6 L410.8,270.8 L411.8,271.0 L412.8,271.3 L413.9,271.5 L414.9,271.7 L415.9,272.0 L416.9,272.2 L417.9,272.5 L418.9,272.7 L419.9,272.9 L420.9,273.2 L421.9,273.4 L422.9,273.7 L423.9,273.9 L424.9,274.1 L425.9,274.4 L426.9,274.6 L427.9,274.9 L428.9,275.1 L429.9,275.4 L430.9,275.6 L431.9,275.9 L432.9,276.1 L433.9,276.3 L434.9,276.6" fill="none" stroke="#1e5e50" stroke-width="1.3"/>
<path d="M64.0,339.3 L65.0,340.4 L66.0,341.5 L67.0,342.5 L68.0,343.6 L69.0,344.6 L70.0,345.7 L71.0,346.8 L72.0,347.8 L73.0,348.9 L74.0,349.9 L75.0,351.0 L76.0,352.0 L77.1,353.1 L78.1,354.1 L79.1,355.1 L80.1,356.2 L81.1,357.2 L82.1,358.2 L83.1,359.3 L84.1,360.3 L85.1,361.3 L86.1,362.3 L87.1,363.3 L88.1,364.3 L89.1,365.3 L90.1,366.3 L91.1,367.2 L92.1,368.2 L93.1,369.1 L94.1,370.1 L95.1,371.0 L96.1,371.9 L97.1,372.8 L98.1,373.6 L99.1,374.4 L100.1,375.3 L101.1,376.1 L102.1,376.8 L103.1,377.6 L104.1,378.3 L105.1,378.9 L106.1,379.6 L107.1,380.2 L108.1,380.8 L109.1,381.3 L110.1,381.8 L111.1,382.3 L112.1,382.7 L113.1,383.1 L114.1,383.4 L115.1,383.7 L116.1,384.0 L117.1,384.2 L118.1,384.4 L119.2,384.6 L120.2,384.8 L121.2,384.9 L122.2,385.0 L123.2,385.0 L124.2,385.1 L125.2,385.1 L126.2,385.0 L127.2,385.0 L128.2,384.9 L129.2,384.9 L130.2,384.8 L131.2,384.7 L132.2,384.5 L133.2,384.4 L134.2,384.3 L135.2,384.1 L136.2,384.0 L137.2,383.9 L138.2,383.7 L139.2,383.6 L140.2,383.4 L141.2,383.2 L142.2,383.1 L143.2,382.9 L144.2,382.8 L145.2,382.6 L146.2,382.4 L147.2,382.2 L148.2,382.1 L149.2,381.9 L150.2,381.7 L151.2,381.5 L152.2,381.3 L153.2,381.2 L154.2,381.0 L155.2,380.8 L156.2,380.6 L157.2,380.4 L158.2,380.2 L159.2,380.1 L160.2,379.9 L161.3,379.7 L162.3,379.5 L163.3,379.3 L164.3,379.2 L165.3,379.0 L166.3,378.8 L167.3,378.6 L168.3,378.5 L169.3,378.3 L170.3,378.1 L171.3,377.9 L172.3,377.8 L173.3,377.6 L174.3,377.5 L175.3,377.3 L176.3,377.2 L177.3,377.0 L178.3,376.9 L179.3,376.8 L180.3,376.6 L181.3,376.5 L182.3,376.4 L183.3,376.3 L184.3,376.2 L185.3,376.1 L186.3,375.9 L187.3,375.8 L188.3,375.7 L189.3,375.6 L190.3,375.5 L191.3,375.4 L192.3,375.3 L193.3,375.2 L194.3,375.2 L195.3,375.1 L196.3,375.0 L197.3,374.9 L198.3,374.8 L199.3,374.7 L200.3,374.5 L201.3,374.4 L202.3,374.3 L203.4,374.2 L204.4,374.1 L205.4,374.0 L206.4,373.8 L207.4,373.7 L208.4,373.6 L209.4,373.4 L210.4,373.3 L211.4,373.2 L212.4,373.0 L213.4,372.9 L214.4,372.7 L215.4,372.5 L216.4,372.4 L217.4,372.2 L218.4,372.0 L219.4,371.9 L220.4,371.7 L221.4,371.5 L222.4,371.3 L223.4,371.2 L224.4,371.0 L225.4,370.8 L226.4,370.6 L227.4,370.4 L228.4,370.2 L229.4,370.0 L230.4,369.8 L231.4,369.6 L232.4,369.4 L233.4,369.2 L234.4,368.9 L235.4,368.7 L236.4,368.5 L237.4,368.3 L238.4,368.1 L239.4,367.8 L240.4,367.6 L241.4,367.4 L242.4,367.2 L243.4,366.9 L244.4,366.7 L245.5,366.5 L246.5,366.2 L247.5,366.0 L248.5,365.8 L249.5,365.5 L250.5,365.3 L251.5,365.0 L252.5,364.8 L253.5,364.5 L254.5,364.3 L255.5,364.0 L256.5,363.8 L257.5,363.5 L258.5,363.3 L259.5,363.0 L260.5,362.8 L261.5,362.5 L262.5,362.3 L263.5,362.0 L264.5,361.8 L265.5,361.5 L266.5,361.2 L267.5,361.0 L268.5,360.7 L269.5,360.4 L270.5,360.2 L271.5,359.9 L272.5,359.6 L273.5,359.3 L274.5,359.1 L275.5,358.8 L276.5,358.5 L277.5,358.2 L278.5,357.9 L279.5,357.7 L280.5,357.4 L281.5,357.1 L282.5,356.8 L283.5,356.5 L284.5,356.2 L285.5,355.9 L286.5,355.6 L287.6,355.3 L288.6,355.0 L289.6,354.6 L290.6,354.3 L291.6,354.0 L292.6,353.7 L293.6,353.4 L294.6,353.0 L295.6,352.7 L296.6,352.3 L297.6,352.0 L298.6,351.7 L299.6,351.3 L300.6,351.0 L301.6,350.6 L302.6,350.2 L303.6,349.9 L304.6,349.5 L305.6,349.2 L306.6,348.8 L307.6,348.5 L308.6,348.1 L309.6,347.7 L310.6,347.4 L311.6,347.0 L312.6,346.7 L313.6,346.3 L314.6,345.9 L315.6,345.6 L316.6,345.2 L317.6,344.9 L318.6,344.6 L319.6,344.2 L320.6,343.9 L321.6,343.6 L322.6,343.2 L323.6,342.9 L324.6,342.6 L325.6,342.3 L326.6,342.0 L327.6,341.7 L328.6,341.3 L329.7,341.0 L330.7,340.7 L331.7,340.5 L332.7,340.2 L333.7,339.9 L334.7,339.6 L335.7,339.3 L336.7,339.0 L337.7,338.8 L338.7,338.5 L339.7,338.2 L340.7,338.0 L341.7,337.7 L342.7,337.5 L343.7,337.2 L344.7,337.0 L345.7,336.7 L346.7,336.5 L347.7,336.3 L348.7,336.0 L349.7,335.8 L350.7,335.6 L351.7,335.4 L352.7,335.1 L353.7,334.9 L354.7,334.7 L355.7,334.5 L356.7,334.3 L357.7,334.2 L358.7,334.0 L359.7,333.8 L360.7,333.6 L361.7,333.5 L362.7,333.3 L363.7,333.2 L364.7,333.0 L365.7,332.9 L366.7,332.7 L367.7,332.6 L368.7,332.5 L369.7,332.4 L370.7,332.2 L371.8,332.1 L372.8,332.0 L373.8,331.9 L374.8,331.8 L375.8,331.7 L376.8,331.6 L377.8,331.5 L378.8,331.4 L379.8,331.3 L380.8,331.1 L381.8,331.0 L382.8,330.9 L383.8,330.8 L384.8,330.7 L385.8,330.6 L386.8,330.4 L387.8,330.3 L388.8,330.2 L389.8,330.0 L390.8,329.9 L391.8,329.7 L392.8,329.5 L393.8,329.4 L394.8,329.2 L395.8,329.0 L396.8,328.8 L397.8,328.6 L398.8,328.4 L399.8,328.2 L400.8,328.0 L401.8,327.8 L402.8,327.6 L403.8,327.3 L404.8,327.1 L405.8,326.9 L406.8,326.6 L407.8,326.4 L408.8,326.1 L409.8,325.9 L410.8,325.6 L411.8,325.3 L412.8,325.1 L413.9,324.8 L414.9,324.5 L415.9,324.2 L416.9,323.9 L417.9,323.7 L418.9,323.4 L419.9,323.1 L420.9,322.8 L421.9,322.5 L422.9,322.1 L423.9,321.8 L424.9,321.5 L425.9,321.2 L426.9,320.9 L427.9,320.6 L428.9,320.3 L429.9,319.9 L430.9,319.6 L431.9,319.3 L432.9,319.0 L433.9,318.7 L434.9,318.3" fill="none" stroke="#e89a30" stroke-width="1.3"/>
</g>
<g stroke="#2e2e2e" stroke-width="1.2" fill="none">
<line x1="50.1" y1="244.6" x2="50.1" y2="404.5"/>
<line x1="50" y1="404.5" x2="447.7" y2="404.5"/>
<line x1="47.50" y1="387.50" x2="50.50" y2="387.50"/><line x1="47.50" y1="352.60" x2="50.50" y2="352.60"/><line x1="47.50" y1="317.70" x2="50.50" y2="317.70"/><line x1="47.50" y1="282.80" x2="50.50" y2="282.80"/><line x1="47.50" y1="247.90" x2="50.50" y2="247.90"/><line x1="64.02" y1="404.50" x2="64.02" y2="407.50"/><line x1="87.20" y1="404.50" x2="87.20" y2="407.50"/><line x1="110.38" y1="404.50" x2="110.38" y2="407.50"/><line x1="133.56" y1="404.50" x2="133.56" y2="407.50"/><line x1="156.74" y1="404.50" x2="156.74" y2="407.50"/><line x1="179.92" y1="404.50" x2="179.92" y2="407.50"/><line x1="203.10" y1="404.50" x2="203.10" y2="407.50"/><line x1="226.28" y1="404.50" x2="226.28" y2="407.50"/><line x1="249.46" y1="404.50" x2="249.46" y2="407.50"/><line x1="272.64" y1="404.50" x2="272.64" y2="407.50"/><line x1="295.82" y1="404.50" x2="295.82" y2="407.50"/><line x1="319.00" y1="404.50" x2="319.00" y2="407.50"/><line x1="342.18" y1="404.50" x2="342.18" y2="407.50"/><line x1="365.36" y1="404.50" x2="365.36" y2="407.50"/><line x1="388.54" y1="404.50" x2="388.54" y2="407.50"/><line x1="411.72" y1="404.50" x2="411.72" y2="407.50"/><line x1="434.90" y1="404.50" x2="434.90" y2="407.50"/>
</g>
<g font-size="7.5" fill="#333" text-anchor="end"><text x="44.70" y="390.10">0.0</text><text x="44.70" y="355.20">0.5</text><text x="44.70" y="320.30">1.0</text><text x="44.70" y="285.40">1.5</text><text x="44.70" y="250.50">2.0</text></g>
<g font-size="7.3" fill="#333" text-anchor="middle"><text x="64.02" y="417.00">&#8722;5</text><text x="87.20" y="417.00">0</text><text x="110.38" y="417.00">1</text><text x="133.56" y="417.00">2</text><text x="156.74" y="417.00">3</text><text x="179.92" y="417.00">4</text><text x="203.10" y="417.00">5</text><text x="226.28" y="417.00">6</text><text x="249.46" y="417.00">7</text><text x="272.64" y="417.00">8</text><text x="295.82" y="417.00">9</text><text x="319.00" y="417.00">10</text><text x="342.18" y="417.00">11</text><text x="365.36" y="417.00">12</text><text x="388.54" y="417.00">13</text><text x="411.72" y="417.00">14</text><text x="434.90" y="417.00">15</text></g>
<text transform="translate(27.8,324.5) rotate(-90)" font-size="8.4" fill="#111" stroke="#111" stroke-width="0.2" text-anchor="middle" textLength="110.9" lengthAdjust="spacingAndGlyphs">Absolute lymphocyte count (10<tspan font-size="6.3" dy="-2.8">3</tspan><tspan dy="2.8"> cel/uL)</tspan></text>
<text x="214.8" y="430" font-size="8.9" fill="#111" stroke="#111" stroke-width="0.2" textLength="68" lengthAdjust="spacingAndGlyphs">Day post CAR-T infusion</text>
<text x="254.4" y="442" font-size="7.1" fill="#333" textLength="193.5" lengthAdjust="spacingAndGlyphs">ALC trend by Progression Status &#8211; Only Pts &gt;1m follow-up</text>
<text x="450.9" y="315.8" font-size="7.1" fill="#333" textLength="62.3" lengthAdjust="spacingAndGlyphs">Progression Status</text>
<line x1="450.5" y1="324.7" x2="460.9" y2="324.7" stroke="#1e5252" stroke-width="1.6"/>
<text x="463.9" y="326.9" font-size="7.1" fill="#333" textLength="46.8" lengthAdjust="spacingAndGlyphs">No Progression</text>
<line x1="450.5" y1="335.4" x2="460.9" y2="335.4" stroke="#dc9440" stroke-width="1.2"/>
<text x="463.9" y="337.8" font-size="7.1" fill="#333" textLength="35.7" lengthAdjust="spacingAndGlyphs">Progression</text>
</svg>
</body></html>
